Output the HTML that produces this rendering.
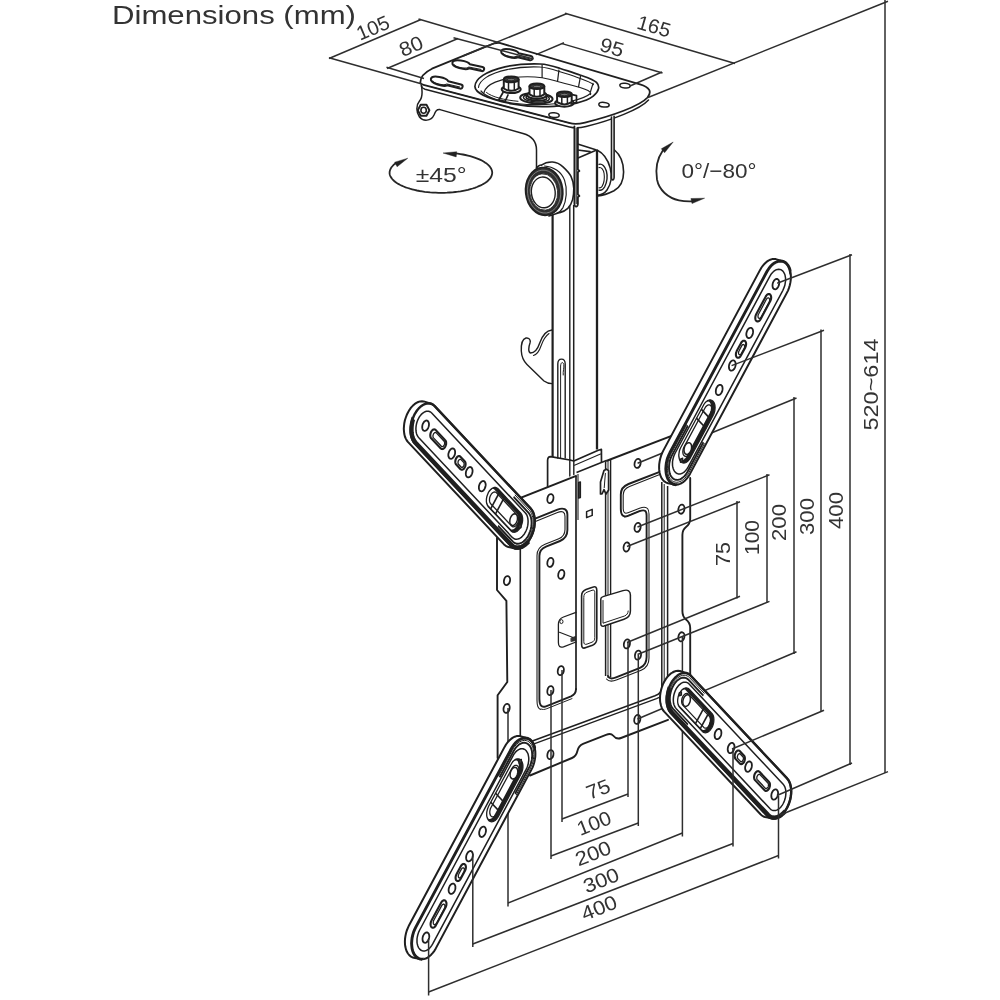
<!DOCTYPE html>
<html><head><meta charset="utf-8"><title>Dimensions</title>
<style>
html,body{margin:0;padding:0;background:#fff;}
body{width:1000px;height:1000px;overflow:hidden;font-family:"Liberation Sans",sans-serif;}
svg{display:block}
text{font-family:"Liberation Sans",sans-serif;fill:#333;}
svg{filter:grayscale(1)}
</style></head><body>
<svg width="1000" height="1000" viewBox="0 0 1000 1000">
<rect width="1000" height="1000" fill="#fff"/>
<path d="M421.5,86 C422.5,92 423,97 419.5,101 C416,105 416,112 419.5,117 C423,121.5 431,121.5 434,115 C435.5,111 436.5,109.3 440,109.6 L523,133.5 C532,136 536.5,141 536.5,150 L536.5,170" fill="none" stroke="#1f1f1f" stroke-width="1.5" stroke-linejoin="round" stroke-linecap="round" />
<path d="M429.4,110.2 L426.5,115.7 L420.7,115.7 L417.8,110.2 L420.7,104.7 L426.5,104.7Z" fill="#fff" stroke="#1f1f1f" stroke-width="1.9" stroke-linejoin="round" stroke-linecap="round" />
<ellipse cx="423.6" cy="110.2" rx="2.7" ry="3.0" transform="rotate(0 423.6 110.2)" fill="none" stroke="#1f1f1f" stroke-width="1.6"/>
<path d="M420.3,82.5 C420.3,77.5 424.5,72.4 432,68.7 L487,46.2 C491,44.6 494.5,42.4 499.5,42.9 L640,84.3 C650,87.2 652,92 647.5,97.5 C640,106 612,116 585,122.5 C579,124 575,124.5 570,123.2 L423.5,84.8 C421.5,84.3 420.3,83.6 420.3,82.5Z" fill="#fff" stroke="#1f1f1f" stroke-width="1.8" stroke-linejoin="round" stroke-linecap="round" />
<path d="M421.3,85.5 C421.6,87.5 423,88.6 425,89.2 L569.5,127 C575,128.4 580,128 586,126.6 C612,120 640,109.5 648.5,100" fill="none" stroke="#1f1f1f" stroke-width="1.5" stroke-linejoin="round" stroke-linecap="round" />
<path d="M431,86.8 L571,123.5" fill="none" stroke="#1f1f1f" stroke-width="0.8" stroke-linejoin="round" stroke-linecap="round" />
<g transform="translate(440.0 81.2) rotate(14.5)"><path d="M-9.4,0 C-9.4,-4.8 5.6,-4.8 8.0,-2.1 L21.2,-2.1 A2.1,2.1 0 0 1 21.2,2.1 L8.0,2.1 C5.6,4.8 -9.4,4.8 -9.4,0Z" fill="#fff" stroke="#1f1f1f" stroke-width="2.0" stroke-linejoin="round"/><path d="M-7.4,1.4 C-6.4,3.7 4.7,3.9 7.5,0.9 L20.7,0.7" fill="none" stroke="#1f1f1f" stroke-width="1.0"/></g>
<g transform="translate(461.6 64.6) rotate(12.1)"><path d="M-9.4,0 C-9.4,-4.8 5.6,-4.8 8.0,-2.1 L20.9,-2.1 A2.1,2.1 0 0 1 20.9,2.1 L8.0,2.1 C5.6,4.8 -9.4,4.8 -9.4,0Z" fill="#fff" stroke="#1f1f1f" stroke-width="2.0" stroke-linejoin="round"/><path d="M-7.4,1.4 C-6.4,3.7 4.7,3.9 7.5,0.9 L20.4,0.7" fill="none" stroke="#1f1f1f" stroke-width="1.0"/></g>
<g transform="translate(510.4 53.4) rotate(13.3)"><path d="M-9.4,0 C-9.4,-4.8 5.6,-4.8 8.0,-2.1 L20.6,-2.1 A2.1,2.1 0 0 1 20.6,2.1 L8.0,2.1 C5.6,4.8 -9.4,4.8 -9.4,0Z" fill="#fff" stroke="#1f1f1f" stroke-width="2.0" stroke-linejoin="round"/><path d="M-7.4,1.4 C-6.4,3.7 4.7,3.9 7.5,0.9 L20.1,0.7" fill="none" stroke="#1f1f1f" stroke-width="1.0"/></g>
<ellipse cx="554.0" cy="115.1" rx="5.2" ry="2.3" transform="rotate(5 554.0 115.1)" fill="#fff" stroke="#1f1f1f" stroke-width="1.5"/>
<ellipse cx="604.0" cy="104.7" rx="5.2" ry="2.3" transform="rotate(5 604.0 104.7)" fill="#fff" stroke="#1f1f1f" stroke-width="1.5"/>
<ellipse cx="625.0" cy="85.6" rx="5.2" ry="2.3" transform="rotate(5 625.0 85.6)" fill="#fff" stroke="#1f1f1f" stroke-width="1.5"/>
<path d="M474.9,86.5 C475,79 486,71 505,66.8 C517,64.3 529,63.6 540,64 C548,64.3 553,66 559.6,68.2 C567,70.7 573,72.5 580.6,75.2 C588,77.8 593.5,79.5 596.5,82.4 C600,86 599.5,91 593.2,96.2 C586,102 569,105.5 554,106.3 C540,107.2 525,106.4 512,103.9 C494,100.3 475,94 474.9,86.5Z" fill="#fff" stroke="#1f1f1f" stroke-width="1.7" stroke-linejoin="round" stroke-linecap="round" />
<path d="M478.5,87.5 C479,80.5 489,73.5 507,69.6 C518,67.2 529,66.6 539.5,67 C547,67.3 552,69 558.5,71.2 C566,73.7 572,75.5 579.5,78.2 C586.5,80.7 591,82.3 593.5,84.6" fill="none" stroke="#1f1f1f" stroke-width="1.1" stroke-linejoin="round" stroke-linecap="round" />
<line x1="542.1" y1="64.7" x2="542.1" y2="78.0" stroke="#1f1f1f" stroke-width="1.2" />
<line x1="559.0" y1="69.6" x2="557.5" y2="81.5" stroke="#1f1f1f" stroke-width="1.2" />
<line x1="580.6" y1="75.9" x2="578.5" y2="87.1" stroke="#1f1f1f" stroke-width="1.2" />
<line x1="593.2" y1="82.9" x2="590.4" y2="92.0" stroke="#1f1f1f" stroke-width="1.2" />
<path d="M484,92.5 C486,84 500,78.5 520,77 C532,76.2 545,77.5 556,81 C567,84.5 580,86.5 588,90.5 C590.5,92 591,93.5 590.4,94.5" fill="none" stroke="#1f1f1f" stroke-width="1.2" stroke-linejoin="round" stroke-linecap="round" />
<path d="M481,91 C486,97 500,101.5 516,103.5 C534,105.5 556,104.5 572,101 C580,99.2 587,96.5 590.4,93.5" fill="none" stroke="#1f1f1f" stroke-width="1.2" stroke-linejoin="round" stroke-linecap="round" />
<path d="M486.5,92.5 C492,97 504,100 518,101.3" fill="none" stroke="#1f1f1f" stroke-width="1.0" stroke-linejoin="round" stroke-linecap="round" />
<ellipse cx="511.2" cy="89.3" rx="9.5" ry="3.8" transform="rotate(0 511.2 89.3)" fill="#fff" stroke="#1f1f1f" stroke-width="2.0"/>
<path d="M503.8,79.4 L503.8,88.5 Q511.2,93.2 518.6,88.5 L518.6,79.4Z" fill="#fff" stroke="#1f1f1f" stroke-width="2.0" stroke-linejoin="round" stroke-linecap="round" />
<line x1="508.5" y1="81.9" x2="508.5" y2="90.4" stroke="#1f1f1f" stroke-width="1.5" />
<line x1="514.3" y1="81.6" x2="514.3" y2="90.3" stroke="#1f1f1f" stroke-width="1.5" />
<ellipse cx="511.2" cy="79.4" rx="7.4" ry="2.8" transform="rotate(0 511.2 79.4)" fill="#3a3a3a" stroke="#1f1f1f" stroke-width="2.0"/>
<ellipse cx="511.2" cy="79.6" rx="3.7" ry="1.2" transform="rotate(0 511.2 79.6)" fill="#777" stroke="#1f1f1f" stroke-width="0.8"/>
<ellipse cx="536.4" cy="98.3" rx="16.2" ry="5.2" transform="rotate(3 536.4 98.3)" fill="#fff" stroke="#1f1f1f" stroke-width="2.0"/>
<ellipse cx="536.4" cy="98.0" rx="13.0" ry="4.0" transform="rotate(3 536.4 98.0)" fill="none" stroke="#1f1f1f" stroke-width="1.4"/>
<ellipse cx="536.4" cy="97.6" rx="10.4" ry="3.0" transform="rotate(3 536.4 97.6)" fill="none" stroke="#1f1f1f" stroke-width="1.6"/>
<ellipse cx="536.9" cy="95.1" rx="9.5" ry="3.8" transform="rotate(0 536.9 95.1)" fill="#fff" stroke="#1f1f1f" stroke-width="2.0"/>
<path d="M529.5,86.2 L529.5,94.3 Q536.9,99.0 544.3,94.3 L544.3,86.2Z" fill="#fff" stroke="#1f1f1f" stroke-width="2.0" stroke-linejoin="round" stroke-linecap="round" />
<line x1="534.2" y1="88.7" x2="534.2" y2="96.2" stroke="#1f1f1f" stroke-width="1.5" />
<line x1="540.0" y1="88.4" x2="540.0" y2="96.1" stroke="#1f1f1f" stroke-width="1.5" />
<ellipse cx="536.9" cy="86.2" rx="7.4" ry="2.8" transform="rotate(0 536.9 86.2)" fill="#3a3a3a" stroke="#1f1f1f" stroke-width="2.0"/>
<ellipse cx="536.9" cy="86.4" rx="3.7" ry="1.2" transform="rotate(0 536.9 86.4)" fill="#777" stroke="#1f1f1f" stroke-width="0.8"/>
<ellipse cx="564.4" cy="103.0" rx="9.3" ry="3.7" transform="rotate(0 564.4 103.0)" fill="#fff" stroke="#1f1f1f" stroke-width="2.0"/>
<path d="M557.1,94.3 L557.1,102.2 Q564.4,106.8 571.7,102.2 L571.7,94.3Z" fill="#fff" stroke="#1f1f1f" stroke-width="2.0" stroke-linejoin="round" stroke-linecap="round" />
<line x1="561.8" y1="96.8" x2="561.8" y2="104.1" stroke="#1f1f1f" stroke-width="1.5" />
<line x1="567.4" y1="96.5" x2="567.4" y2="104.0" stroke="#1f1f1f" stroke-width="1.5" />
<ellipse cx="564.4" cy="94.3" rx="7.3" ry="2.7" transform="rotate(0 564.4 94.3)" fill="#3a3a3a" stroke="#1f1f1f" stroke-width="2.0"/>
<ellipse cx="564.4" cy="94.5" rx="3.6" ry="1.2" transform="rotate(0 564.4 94.5)" fill="#777" stroke="#1f1f1f" stroke-width="0.8"/>
<path d="M571,94.3 L576.5,95.6 L576.5,102.4 L571,104" fill="none" stroke="#1f1f1f" stroke-width="1.7" stroke-linejoin="round" stroke-linecap="round" />
<path d="M503,92.5 L499,99.5 L505,101.5 L508,95" fill="none" stroke="#1f1f1f" stroke-width="1.7" stroke-linejoin="round" stroke-linecap="round" />
<path d="M614,149.5 C620,154.5 623.6,163 623.6,172 C623.6,181 620,187.5 614,190.8 C608,193.8 603,195.6 598,196" fill="#fff" stroke="#1f1f1f" stroke-width="1.6" stroke-linejoin="round" stroke-linecap="round" />
<path d="M597,150 C603,153 607.8,159 610.2,168 C612.2,176 611.2,184 607,190 C604.5,193.5 601,195 597,195.2" fill="#fff" stroke="#1f1f1f" stroke-width="1.5" stroke-linejoin="round" stroke-linecap="round" />
<path d="M599,164.3 C602,163.3 605,166 606.4,171 C607.7,176 607.1,182 604.6,187 C603.1,189.6 601,190.6 599,190.1" fill="none" stroke="#1f1f1f" stroke-width="1.4" stroke-linejoin="round" stroke-linecap="round" />
<path d="M599,167.6 C601.5,167 603.4,169.5 604.1,173.5 C604.7,178 604.1,183 602.1,186.4 C601.1,187.8 600,188 599,187.8" fill="none" stroke="#1f1f1f" stroke-width="1.1" stroke-linejoin="round" stroke-linecap="round" />
<path d="M611.5,117 L611.5,177.5 C611.6,180.6 613.9,180.6 614.1,177.5 L614.1,116.2" fill="#fff" stroke="#1f1f1f" stroke-width="1.6" stroke-linejoin="round" stroke-linecap="round" />
<rect x="552.6" y="150" width="44.4" height="308" fill="#fff" stroke="none"/>
<line x1="552.6" y1="212.0" x2="552.6" y2="457.0" stroke="#1f1f1f" stroke-width="2.2" />
<line x1="569.8" y1="206.0" x2="569.8" y2="460.0" stroke="#1f1f1f" stroke-width="1.4" />
<line x1="573.7" y1="205.0" x2="573.7" y2="461.0" stroke="#1f1f1f" stroke-width="1.5" />
<line x1="597.0" y1="150.5" x2="597.0" y2="449.5" stroke="#1f1f1f" stroke-width="2.3" />
<path d="M577.6,144 L595,149.6 L597,150.4 M577.8,150 L590,151.6 M578,158 L595.5,150.6" fill="none" stroke="#1f1f1f" stroke-width="1.6" stroke-linejoin="round" stroke-linecap="round" />
<path d="M574.4,126.5 L574.4,204 C574.6,207.5 577.6,207.5 577.9,204 L577.9,197 L579.4,196 L577.9,194.5 L577.9,172 L579.4,171 L577.9,169.5 L577.9,128" fill="#fff" stroke="#1f1f1f" stroke-width="1.8" stroke-linejoin="round" stroke-linecap="round" />
<line x1="576.2" y1="128.0" x2="576.2" y2="204.0" stroke="#1f1f1f" stroke-width="1.1" />
<path d="M536.5,168 C538,165.5 541,164.8 541.4,165.2 C545,162.6 549,161.8 552.6,162 C557,162.3 560.5,164.5 563,166.8 C567,170.5 569.6,173.5 571,176.4 C573,180.5 573.8,184.5 573.8,188.4 C573.8,192.5 573.4,196.5 572.6,199.6 C571.5,203.5 570,206.2 567.8,208.4 C565.5,210.6 563,211.8 559.8,212.6 L549,216" fill="#fff" stroke="#1f1f1f" stroke-width="1.6" stroke-linejoin="round" stroke-linecap="round" />
<path d="M544.6,166 C549,166.3 553,167.6 556.6,170 C560.5,172.6 563,176 564.6,180.4 C566.2,185 566.6,190 566.2,194.8 C565.8,199.5 564.8,204 563,207.6 C561.5,210.4 559.5,212.2 556.6,213.4" fill="none" stroke="#1f1f1f" stroke-width="1.2" stroke-linejoin="round" stroke-linecap="round" />
<ellipse cx="544.2" cy="191.4" rx="18.6" ry="24.0" transform="rotate(-6 544.2 191.4)" fill="#303030" stroke="#1f1f1f" stroke-width="1.6"/>
<ellipse cx="544.1" cy="191.6" rx="16.6" ry="21.5" transform="rotate(-6 544.1 191.6)" fill="none" stroke="#8a8a8a" stroke-width="0.8"/>
<ellipse cx="543.7" cy="192.0" rx="13.9" ry="18.2" transform="rotate(-6 543.7 192.0)" fill="#fff" stroke="#1f1f1f" stroke-width="0.8"/>
<ellipse cx="543.3" cy="192.4" rx="11.9" ry="15.4" transform="rotate(-6 543.3 192.4)" fill="#fff" stroke="#1f1f1f" stroke-width="1.4"/>
<path d="M552,330 C546.5,330.5 542,336 539.5,343.5 C537.5,349.5 534.5,353 530.5,353 C528,352.5 528.5,347 530,343 C531,340 529,337.5 526,338 C522.5,339 521,344.5 521.3,351 C521.6,357 523.5,361 527,364.5 L544,381 C547,383.3 549.5,383.6 552,383.6" fill="none" stroke="#1f1f1f" stroke-width="1.4" stroke-linejoin="round" stroke-linecap="round" />
<path d="M549,333.5 C545.5,336 543,340.5 541.2,345.5 C539.5,350.5 537,354.5 533.5,355.5" fill="none" stroke="#1f1f1f" stroke-width="1.1" stroke-linejoin="round" stroke-linecap="round" />
<path d="M557.8,458 L557.8,364 C557.8,357.5 565.2,357.5 565.2,364 L565.2,458" fill="none" stroke="#1f1f1f" stroke-width="1.4" stroke-linejoin="round" stroke-linecap="round" />
<path d="M560.6,458 L560.6,366 C560.8,362 563,361.5 563.8,364.5 C564.3,368 562.8,371 563.2,375" fill="none" stroke="#1f1f1f" stroke-width="1.0" stroke-linejoin="round" stroke-linecap="round" />
<path d="M547.6,488 L547.6,460.5 C547.6,458 548.6,456.8 550.6,456.7 L569.8,460 L573.8,461 L598.3,450.2 L601.4,449.4 L601.5,462" fill="none" stroke="#1f1f1f" stroke-width="1.7" stroke-linejoin="round" stroke-linecap="round" />
<path d="M569.8,460 L569.8,476 M573.8,461 L573.8,474.5" fill="none" stroke="#1f1f1f" stroke-width="1.4" stroke-linejoin="round" stroke-linecap="round" />
<path d="M574.5,465.3 L600.5,454" fill="none" stroke="#1f1f1f" stroke-width="1.1" stroke-linejoin="round" stroke-linecap="round" />
<path d="M497.0,507.0 L576.8,475.2 L577.0,470.0 L605.6,461.0 L690.0,427.5 L690.0,521.0 L682.4,530.0 L682.4,617.0 L690.0,624.5 L690.0,705.0 L667.0,720.5 L620.8,739.2 L615.3,737.0 L609.8,731.5 L579.0,743.6 L574.6,756.8 L532.8,774.4 L497.6,760.0 L497.6,695.2 L507.3,682.0 L506.4,600.8 L497.0,590.0Z" fill="#fff" stroke="none" stroke-width="0" stroke-linejoin="round" stroke-linecap="round" />
<path d="M497,538 L497,590 L506.4,600.8 L507.3,682 L497.6,695.2 L497.6,758" fill="none" stroke="#1f1f1f" stroke-width="1.9" stroke-linejoin="round" stroke-linecap="round" />
<line x1="520.3" y1="546.0" x2="520.3" y2="737.0" stroke="#1f1f1f" stroke-width="1.6" />
<line x1="508.0" y1="502.8" x2="576.8" y2="475.6" stroke="#1f1f1f" stroke-width="1.9" />
<line x1="606.2" y1="461.0" x2="682.0" y2="431.9" stroke="#1f1f1f" stroke-width="1.9" />
<line x1="576.5" y1="472.6" x2="606.4" y2="460.6" stroke="#1f1f1f" stroke-width="1.6" />
<line x1="576.0" y1="476.0" x2="576.0" y2="690.0" stroke="#1f1f1f" stroke-width="1.7" />
<line x1="578.0" y1="474.0" x2="578.0" y2="520.0" stroke="#1f1f1f" stroke-width="1.1" />
<path d="M578.6,482.5 L580.4,482 L580.4,497.5 L578.6,498Z" fill="#555" stroke="#1f1f1f" stroke-width="1.4" stroke-linejoin="round" stroke-linecap="round" />
<line x1="605.6" y1="461.3" x2="605.6" y2="676.0" stroke="#1f1f1f" stroke-width="1.5" />
<line x1="608.0" y1="461.0" x2="608.0" y2="678.0" stroke="#1f1f1f" stroke-width="1.0" />
<line x1="610.6" y1="460.0" x2="610.6" y2="677.0" stroke="#1f1f1f" stroke-width="1.4" />
<path d="M600.5,494 L600.5,482 L604,470.6 L606.4,469.2 L608.6,470.6 L608.6,490 L606,494 L604,489.6 L602,494Z" fill="#fff" stroke="#1f1f1f" stroke-width="1.7" stroke-linejoin="round" stroke-linecap="round" />
<line x1="605.4" y1="473.0" x2="604.2" y2="488.0" stroke="#1f1f1f" stroke-width="1.0" />
<path d="M586.6,511.6 L592.2,509.4 L592.2,515.4 L586.6,517.6Z" fill="none" stroke="#1f1f1f" stroke-width="1.5" stroke-linejoin="round" stroke-linecap="round" />
<path d="M534.5,518.8 L557.5,509.6 C563.5,507.4 567.4,509 567.4,514.5 L567.4,530 C567.4,536 565,539 560,541 L546,546.6 C541.5,548.4 539.4,551 539.4,556 L539.4,699 C539.4,705.5 541.5,708 546,706.3 L571,696.4 C575,694.6 576,692.5 576,689" fill="none" stroke="#1f1f1f" stroke-width="1.9" stroke-linejoin="round" stroke-linecap="round" />
<path d="M536,521.2 L557.5,512.4 C562.5,510.5 565,512 565,516.5 L565,529.5 C565,534.5 563,537 558.8,538.7 L545,544.2 C539.5,546.4 537,549.8 537,555.5 L537,700.5 C537,706 538,708.6 540.5,709.4" fill="none" stroke="#1f1f1f" stroke-width="1.1" stroke-linejoin="round" stroke-linecap="round" />
<path d="M541,709 C542.5,709.8 544.5,709.6 546.8,708.7 L572,698.6" fill="none" stroke="#1f1f1f" stroke-width="1.0" stroke-linejoin="round" stroke-linecap="round" />
<path d="M661,471.3 L628.5,484 C623,486.2 620.8,489 620.8,494.5 L620.8,509 C620.8,515.5 623.5,517.6 628,515.8 L639.5,511.2 C644.5,509.2 646.6,510.6 646.6,515.5 L646.6,657 C646.6,663 644.5,666 640,667.8 L616,677.4 C611.5,679.2 609,678.5 608,676" fill="none" stroke="#1f1f1f" stroke-width="1.9" stroke-linejoin="round" stroke-linecap="round" />
<path d="M661,474 L629.5,486.4 C624.8,488.3 623.2,490.6 623.2,495 L623.2,508.5 C623.2,512.7 624.8,514 628,512.8 L639.5,508.3 C645.8,505.8 649,507.8 649,514 L649,658 C649,664.5 646.5,668 641.2,670.2 L617,679.8 C612,681.8 608.5,681.5 606.5,679" fill="none" stroke="#1f1f1f" stroke-width="1.1" stroke-linejoin="round" stroke-linecap="round" />
<path d="M624.5,517 L640.5,510.6" fill="none" stroke="#1f1f1f" stroke-width="0.9" stroke-linejoin="round" stroke-linecap="round" />
<line x1="661.8" y1="482.0" x2="661.8" y2="690.0" stroke="#1f1f1f" stroke-width="1.5" />
<line x1="664.2" y1="484.0" x2="664.2" y2="690.5" stroke="#1f1f1f" stroke-width="1.0" />
<line x1="667.6" y1="486.0" x2="667.6" y2="692.0" stroke="#1f1f1f" stroke-width="1.5" />
<path d="M690.2,478 L690.2,519 C690.2,523.5 688.5,525 686,527 C683.2,529.2 682.4,531 682.4,535 L682.4,611 C682.4,615.5 683.5,617.5 686,619.5 C689,621.8 690.2,623.5 690.2,628 L690.2,700" fill="none" stroke="#1f1f1f" stroke-width="1.9" stroke-linejoin="round" stroke-linecap="round" />
<path d="M531,741.5 L655,695.8 C660,693.8 661.8,691.5 661.8,688" fill="none" stroke="#1f1f1f" stroke-width="1.6" stroke-linejoin="round" stroke-linecap="round" />
<path d="M532,744.6 L656.5,698.6 C663,696 667.6,693.5 667.6,689" fill="none" stroke="#1f1f1f" stroke-width="1.3" stroke-linejoin="round" stroke-linecap="round" />
<path d="M530,775.5 L572,758 C575.5,756.5 576.6,754.5 577.4,751 C578.2,747.2 579.5,745.2 583,743.8 L606,734.8 C609.5,733.4 611.5,733.6 613,735.5 C615,738 617,739.6 621,738 L668,719.8" fill="none" stroke="#1f1f1f" stroke-width="1.9" stroke-linejoin="round" stroke-linecap="round" />
<path d="M581.6,596 C581.6,592.5 583,590.8 586,589.6 L592.5,587.2 C595.5,586 596.8,587.2 596.8,590.5 L596.8,638.5 C596.8,642 595.5,644 592.5,645.2 L586,647.6 C583,648.8 581.6,647.8 581.6,644.5Z" fill="#fff" stroke="#1f1f1f" stroke-width="1.6" stroke-linejoin="round" stroke-linecap="round" />
<path d="M583.8,597 C583.8,594.5 584.8,593 587,592.2 L592,590.3 C594,589.6 594.8,590.4 594.8,592.6 L594.8,637.5 C594.8,640 594,641.4 592,642.2 L587,644.1 C584.8,644.9 583.8,644 583.8,642Z" fill="none" stroke="#1f1f1f" stroke-width="1.0" stroke-linejoin="round" stroke-linecap="round" />
<path d="M600.8,599 C600.8,597.5 601.5,597 603,596.6 L623,590.6 C628,589.2 630.4,591 630.4,595 L630.4,611 C630.4,615.5 628.5,617.8 624,619.2 L604,626 C602,626.6 600.8,626 600.8,624Z" fill="#fff" stroke="#1f1f1f" stroke-width="1.5" stroke-linejoin="round" stroke-linecap="round" />
<path d="M603,600.5 L603,623.2 L624.5,616 C627,615 628,613.4 628.2,611" fill="none" stroke="#1f1f1f" stroke-width="1.0" stroke-linejoin="round" stroke-linecap="round" />
<path d="M576,612.4 L563.5,617 C559.8,618.4 558.4,620.4 558.4,624.4 L558.4,642.5 C558.4,646.5 560,648 563.5,646.8 L576,642" fill="none" stroke="#1f1f1f" stroke-width="1.3" stroke-linejoin="round" stroke-linecap="round" />
<ellipse cx="561.4" cy="621.6" rx="1.6" ry="2.0" transform="rotate(0 561.4 621.6)" fill="none" stroke="#1f1f1f" stroke-width="1.0"/>
<path d="M559.5,632.2 L573,637.4 M571.5,639.8 L575.5,639" fill="none" stroke="#1f1f1f" stroke-width="1.1" stroke-linejoin="round" stroke-linecap="round" />
<path d="M571.3,638 L575.6,636.4 L575.6,640.6 L571.3,641.4Z" fill="#333" stroke="#1f1f1f" stroke-width="0.8" stroke-linejoin="round" stroke-linecap="round" />
<ellipse cx="550.4" cy="498.6" rx="3.0" ry="4.6" transform="rotate(12 550.4 498.6)" fill="#fff" stroke="#1f1f1f" stroke-width="1.8"/>
<ellipse cx="637.6" cy="463.4" rx="3.0" ry="4.6" transform="rotate(12 637.6 463.4)" fill="#fff" stroke="#1f1f1f" stroke-width="1.8"/>
<ellipse cx="507.0" cy="580.6" rx="3.0" ry="4.6" transform="rotate(12 507.0 580.6)" fill="#fff" stroke="#1f1f1f" stroke-width="1.8"/>
<ellipse cx="550.4" cy="562.4" rx="3.0" ry="4.6" transform="rotate(12 550.4 562.4)" fill="#fff" stroke="#1f1f1f" stroke-width="1.8"/>
<ellipse cx="561.3" cy="574.4" rx="3.0" ry="4.6" transform="rotate(12 561.3 574.4)" fill="#fff" stroke="#1f1f1f" stroke-width="1.8"/>
<ellipse cx="637.6" cy="527.4" rx="3.0" ry="4.6" transform="rotate(12 637.6 527.4)" fill="#fff" stroke="#1f1f1f" stroke-width="1.8"/>
<ellipse cx="626.6" cy="547.0" rx="3.0" ry="4.6" transform="rotate(12 626.6 547.0)" fill="#fff" stroke="#1f1f1f" stroke-width="1.8"/>
<ellipse cx="681.4" cy="509.2" rx="3.0" ry="4.6" transform="rotate(12 681.4 509.2)" fill="#fff" stroke="#1f1f1f" stroke-width="1.8"/>
<ellipse cx="681.4" cy="636.8" rx="3.0" ry="4.6" transform="rotate(12 681.4 636.8)" fill="#fff" stroke="#1f1f1f" stroke-width="1.8"/>
<ellipse cx="560.8" cy="670.6" rx="3.0" ry="4.6" transform="rotate(12 560.8 670.6)" fill="#fff" stroke="#1f1f1f" stroke-width="1.8"/>
<ellipse cx="550.4" cy="690.6" rx="3.0" ry="4.6" transform="rotate(12 550.4 690.6)" fill="#fff" stroke="#1f1f1f" stroke-width="1.8"/>
<ellipse cx="626.9" cy="643.9" rx="3.0" ry="4.6" transform="rotate(12 626.9 643.9)" fill="#fff" stroke="#1f1f1f" stroke-width="1.8"/>
<ellipse cx="638.0" cy="655.1" rx="3.0" ry="4.6" transform="rotate(12 638.0 655.1)" fill="#fff" stroke="#1f1f1f" stroke-width="1.8"/>
<ellipse cx="506.6" cy="708.4" rx="3.0" ry="4.6" transform="rotate(12 506.6 708.4)" fill="#fff" stroke="#1f1f1f" stroke-width="1.8"/>
<ellipse cx="550.4" cy="754.6" rx="3.0" ry="4.6" transform="rotate(12 550.4 754.6)" fill="#fff" stroke="#1f1f1f" stroke-width="1.8"/>
<ellipse cx="637.3" cy="719.4" rx="3.0" ry="4.6" transform="rotate(12 637.3 719.4)" fill="#fff" stroke="#1f1f1f" stroke-width="1.8"/>
<line x1="329.0" y1="58.5" x2="421.0" y2="19.5" stroke="#2e2e2e" stroke-width="1.5" />
<line x1="329.0" y1="57.7" x2="422.0" y2="84.0" stroke="#2e2e2e" stroke-width="1.5" />
<line x1="418.5" y1="19.0" x2="500.0" y2="43.0" stroke="#2e2e2e" stroke-width="1.5" />
<line x1="387.0" y1="68.5" x2="458.0" y2="38.5" stroke="#2e2e2e" stroke-width="1.5" />
<line x1="386.5" y1="67.3" x2="424.0" y2="78.5" stroke="#2e2e2e" stroke-width="1.5" />
<line x1="453.5" y1="37.7" x2="533.6" y2="59.0" stroke="#2e2e2e" stroke-width="1.5" />
<line x1="567.0" y1="13.5" x2="463.0" y2="56.0" stroke="#2e2e2e" stroke-width="1.5" />
<line x1="565.0" y1="13.2" x2="735.0" y2="63.5" stroke="#2e2e2e" stroke-width="1.5" />
<line x1="648.0" y1="97.5" x2="888.0" y2="1.2" stroke="#2e2e2e" stroke-width="1.5" />
<line x1="562.0" y1="43.6" x2="662.5" y2="73.0" stroke="#2e2e2e" stroke-width="1.5" />
<line x1="564.0" y1="42.8" x2="536.0" y2="54.6" stroke="#2e2e2e" stroke-width="1.5" />
<line x1="662.0" y1="72.0" x2="630.0" y2="86.0" stroke="#2e2e2e" stroke-width="1.5" />
<line x1="737.0" y1="501.0" x2="737.0" y2="598.5" stroke="#2e2e2e" stroke-width="1.5" />
<line x1="767.0" y1="474.0" x2="767.0" y2="603.0" stroke="#2e2e2e" stroke-width="1.5" />
<line x1="794.0" y1="397.0" x2="794.0" y2="654.0" stroke="#2e2e2e" stroke-width="1.5" />
<line x1="821.0" y1="329.5" x2="821.0" y2="711.5" stroke="#2e2e2e" stroke-width="1.5" />
<line x1="850.0" y1="254.0" x2="850.0" y2="765.0" stroke="#2e2e2e" stroke-width="1.5" />
<line x1="885.0" y1="0.0" x2="885.0" y2="773.0" stroke="#2e2e2e" stroke-width="1.5" />
<line x1="627.0" y1="546.5" x2="740.0" y2="501.8" stroke="#2e2e2e" stroke-width="1.5" />
<line x1="637.5" y1="527.0" x2="769.5" y2="474.8" stroke="#2e2e2e" stroke-width="1.5" />
<line x1="637.6" y1="463.2" x2="796.5" y2="398.0" stroke="#2e2e2e" stroke-width="1.5" />
<line x1="627.0" y1="642.5" x2="740.0" y2="596.2" stroke="#2e2e2e" stroke-width="1.5" />
<line x1="637.5" y1="654.5" x2="769.5" y2="601.4" stroke="#2e2e2e" stroke-width="1.5" />
<line x1="637.5" y1="719.0" x2="796.5" y2="651.8" stroke="#2e2e2e" stroke-width="1.5" />
<line x1="562.0" y1="670.0" x2="562.0" y2="822.0" stroke="#2e2e2e" stroke-width="1.5" />
<line x1="628.0" y1="642.0" x2="628.0" y2="797.0" stroke="#2e2e2e" stroke-width="1.5" />
<line x1="551.0" y1="690.0" x2="551.0" y2="859.0" stroke="#2e2e2e" stroke-width="1.5" />
<line x1="638.3" y1="655.0" x2="638.3" y2="826.0" stroke="#2e2e2e" stroke-width="1.5" />
<line x1="508.0" y1="708.0" x2="508.0" y2="906.5" stroke="#2e2e2e" stroke-width="1.5" />
<line x1="682.4" y1="637.0" x2="682.4" y2="836.5" stroke="#2e2e2e" stroke-width="1.5" />
<line x1="562.0" y1="819.0" x2="628.0" y2="794.0" stroke="#2e2e2e" stroke-width="1.5" />
<line x1="551.0" y1="856.0" x2="638.3" y2="823.0" stroke="#2e2e2e" stroke-width="1.5" />
<line x1="508.0" y1="903.0" x2="682.4" y2="833.0" stroke="#2e2e2e" stroke-width="1.5" />
<line x1="472.8" y1="944.0" x2="733.0" y2="843.5" stroke="#2e2e2e" stroke-width="1.5" />
<line x1="428.6" y1="992.0" x2="778.5" y2="855.5" stroke="#2e2e2e" stroke-width="1.5" />
<path d="M659.1,467.2 L659.2,464.4 L659.6,461.6 L660.2,458.7 L661.0,455.9 L662.1,453.2 L663.3,450.6 L760.1,269.9 L761.5,267.5 L763.1,265.4 L764.8,263.5 L766.5,261.9 L768.4,260.6 L770.3,259.7 L772.1,259.1 L774.0,258.9 L775.8,259.1 L777.5,259.6 L783.8,261.7 L785.4,262.6 L786.7,263.8 L788.0,265.4 L789.0,267.2 L789.8,269.3 L790.4,271.7 L790.8,274.2 L790.9,276.8 L790.8,279.6 L790.4,282.4 L789.8,285.2 L789.0,287.9 L788.0,290.6 L786.7,293.1 L690.0,473.9 L688.6,476.2 L687.0,478.3 L685.4,480.2 L683.6,481.8 L681.8,483.0 L680.0,483.9 L678.1,484.5 L676.3,484.7 L674.5,484.5 L668.0,483.2 L666.3,482.6 L664.7,481.7 L663.3,480.5 L662.1,478.9 L661.0,477.0 L660.2,474.9 L659.6,472.5 L659.2,469.9Z" fill="#fff" stroke="#1f1f1f" stroke-width="2.0" stroke-linejoin="round" stroke-linecap="round" />
<clipPath id="ac1"><path d="M927.8,16.5 L550.0,721.7 L373.7,627.2 L751.5,-78.0Z"/></clipPath>
<path d="M689.9,473.8 L688.6,476.2 L687.0,478.3 L685.4,480.2 L683.6,481.7 L681.8,483.0 L680.0,483.9 L678.1,484.5 L676.3,484.7 L674.6,484.5 L672.9,484.0 L671.4,483.1 L670.0,481.8 L668.8,480.3 L667.7,478.5 L666.9,476.3 L666.3,474.0 L666.0,471.5 L665.8,468.8 L666.0,466.1 L666.3,463.3 L666.9,460.5 L667.7,457.7 L668.8,455.1 L670.0,452.5 L766.8,271.8 L768.2,269.5 L769.7,267.4 L771.3,265.5 L773.1,263.9 L774.9,262.7 L776.8,261.8 L778.6,261.2 L780.4,261.0 L782.2,261.2 L783.8,261.7 L785.4,262.6 L786.7,263.8 L788.0,265.4 L789.0,267.2 L789.8,269.3 L790.4,271.7 L790.8,274.2 L790.9,276.8 L790.8,279.6 L790.4,282.4 L789.8,285.2 L789.0,288.0 L788.0,290.6 L786.7,293.1Z" fill="none" stroke="#1f1f1f" stroke-width="2.9" stroke-linejoin="round" stroke-linecap="round" clip-path="url(#ac1)"/>
<path d="M688.2,466.9 L687.3,468.4 L686.3,469.8 L685.2,471.0 L684.1,472.1 L682.9,472.9 L681.7,473.5 L680.5,473.9 L679.3,474.0 L678.2,473.9 L677.1,473.5 L676.1,472.9 L675.2,472.1 L674.4,471.1 L673.7,469.9 L673.2,468.5 L672.8,467.0 L672.5,465.4 L672.5,463.6 L672.5,461.8 L672.8,460.0 L673.2,458.2 L673.7,456.4 L674.4,454.6 L675.2,453.0 L769.8,276.3 L770.7,274.8 L771.7,273.4 L772.8,272.2 L773.9,271.2 L775.1,270.3 L776.3,269.7 L777.5,269.4 L778.7,269.2 L779.9,269.4 L780.9,269.7 L781.9,270.3 L782.9,271.1 L783.6,272.1 L784.3,273.3 L784.9,274.7 L785.2,276.2 L785.5,277.9 L785.6,279.6 L785.5,281.4 L785.2,283.2 L784.9,285.1 L784.3,286.9 L783.6,288.6 L782.9,290.3Z" fill="none" stroke="#1f1f1f" stroke-width="1.5" stroke-linejoin="round" stroke-linecap="round" />
<clipPath id="ec2"><path d="M660.8,396.7 L730.5,471.1 L671.2,581.8 L601.5,507.4Z"/></clipPath>
<path d="M688.8,472.7 L687.6,474.7 L686.2,476.6 L684.8,478.3 L683.2,479.7 L681.6,480.8 L680.0,481.6 L678.3,482.1 L676.7,482.3 L675.2,482.1 L673.7,481.7 L672.3,480.9 L671.1,479.8 L670.0,478.4 L669.1,476.8 L668.4,474.9 L667.8,472.8 L667.5,470.6 L667.4,468.2 L667.5,465.8 L667.8,463.3 L668.4,460.8 L669.1,458.3 L670.0,456.0 L671.1,453.7 L706.0,388.6 L707.2,386.5 L708.6,384.6 L710.0,383.0 L711.6,381.6 L713.2,380.5 L714.8,379.7 L716.5,379.2 L718.1,379.0 L719.6,379.1 L721.1,379.6 L722.5,380.4 L723.7,381.5 L724.8,382.9 L725.7,384.5 L726.4,386.4 L727.0,388.5 L727.3,390.7 L727.4,393.0 L727.3,395.5 L727.0,398.0 L726.4,400.5 L725.7,402.9 L724.8,405.3 L723.7,407.5Z" fill="none" stroke="#1f1f1f" stroke-width="1.0" stroke-linejoin="round" stroke-linecap="round" clip-path="url(#ec2)"/>
<path d="M687.7,471.5 L686.6,473.3 L685.5,475.0 L684.2,476.4 L682.8,477.6 L681.4,478.6 L680.0,479.3 L678.5,479.7 L677.1,479.9 L675.8,479.8 L674.5,479.4 L673.3,478.7 L672.2,477.7 L671.2,476.5 L670.4,475.1 L669.8,473.4 L669.3,471.6 L669.1,469.7 L669.0,467.6 L669.1,465.5 L669.3,463.3 L669.8,461.1 L670.4,458.9 L671.2,456.9 L672.2,454.9 L707.1,389.8 L708.2,388.0 L709.3,386.3 L710.6,384.9 L712.0,383.6 L713.4,382.7 L714.8,382.0 L716.3,381.5 L717.7,381.4 L719.0,381.5 L720.3,381.9 L721.5,382.6 L722.6,383.6 L723.6,384.8 L724.4,386.2 L725.0,387.8 L725.5,389.7 L725.7,391.6 L725.8,393.7 L725.7,395.8 L725.5,398.0 L725.0,400.2 L724.4,402.3 L723.6,404.4 L722.6,406.4Z" fill="none" stroke="#1f1f1f" stroke-width="1.9" stroke-linejoin="round" stroke-linecap="round" clip-path="url(#ec2)"/>
<path d="M779.3,282.8 L779.2,283.9 L778.9,285.1 L778.5,286.2 L778.0,287.2 L777.4,288.0 L776.6,288.7 L775.9,289.1 L775.1,289.3 L774.4,289.2 L773.8,288.9 L773.2,288.3 L772.8,287.5 L772.6,286.6 L772.5,285.5 L772.6,284.3 L772.8,283.2 L773.2,282.1 L773.8,281.1 L774.4,280.2 L775.1,279.6 L775.9,279.1 L776.6,278.9 L777.4,279.0 L778.0,279.4 L778.5,279.9 L778.9,280.7 L779.2,281.7Z" fill="#fff" stroke="#1f1f1f" stroke-width="1.8" stroke-linejoin="round" stroke-linecap="round" />
<path d="M753.1,331.6 L753.0,332.7 L752.8,333.9 L752.4,335.0 L751.8,336.0 L751.2,336.9 L750.5,337.5 L749.7,337.9 L749.0,338.1 L748.2,338.0 L747.6,337.7 L747.1,337.1 L746.7,336.3 L746.4,335.4 L746.3,334.3 L746.4,333.2 L746.7,332.0 L747.1,330.9 L747.6,329.9 L748.2,329.1 L749.0,328.4 L749.7,328.0 L750.5,327.8 L751.2,327.9 L751.8,328.2 L752.4,328.8 L752.8,329.6 L753.0,330.5Z" fill="#fff" stroke="#1f1f1f" stroke-width="1.8" stroke-linejoin="round" stroke-linecap="round" />
<path d="M735.7,364.2 L735.6,365.3 L735.3,366.5 L734.9,367.6 L734.4,368.6 L733.8,369.4 L733.0,370.1 L732.3,370.5 L731.5,370.7 L730.8,370.6 L730.2,370.3 L729.6,369.7 L729.2,368.9 L729.0,368.0 L728.9,366.9 L729.0,365.7 L729.2,364.6 L729.6,363.5 L730.2,362.5 L730.8,361.6 L731.5,361.0 L732.3,360.5 L733.0,360.3 L733.8,360.4 L734.4,360.8 L734.9,361.3 L735.3,362.1 L735.6,363.1Z" fill="#fff" stroke="#1f1f1f" stroke-width="1.8" stroke-linejoin="round" stroke-linecap="round" />
<path d="M722.6,388.6 L722.5,389.7 L722.3,390.9 L721.9,392.0 L721.3,393.0 L720.7,393.8 L720.0,394.5 L719.2,394.9 L718.4,395.1 L717.7,395.0 L717.1,394.7 L716.5,394.1 L716.1,393.3 L715.9,392.4 L715.8,391.3 L715.9,390.2 L716.1,389.0 L716.5,387.9 L717.1,386.9 L717.7,386.0 L718.4,385.4 L719.2,384.9 L720.0,384.8 L720.7,384.9 L721.3,385.2 L721.9,385.8 L722.3,386.5 L722.5,387.5Z" fill="#fff" stroke="#1f1f1f" stroke-width="1.8" stroke-linejoin="round" stroke-linecap="round" />
<path d="M760.7,319.0 L760.3,319.6 L760.0,320.0 L759.6,320.4 L759.3,320.8 L758.8,321.1 L758.4,321.3 L758.0,321.4 L757.6,321.4 L757.2,321.4 L756.9,321.3 L756.5,321.1 L756.2,320.8 L755.9,320.5 L755.7,320.1 L755.5,319.6 L755.4,319.1 L755.3,318.5 L755.3,317.9 L755.3,317.3 L755.4,316.7 L755.5,316.1 L755.7,315.5 L755.9,314.9 L756.2,314.3 L765.8,296.4 L766.1,295.9 L766.5,295.4 L766.8,295.0 L767.2,294.6 L767.6,294.4 L768.0,294.2 L768.4,294.0 L768.8,294.0 L769.2,294.0 L769.6,294.2 L769.9,294.3 L770.3,294.6 L770.5,295.0 L770.7,295.4 L770.9,295.8 L771.1,296.4 L771.1,296.9 L771.2,297.5 L771.1,298.1 L771.1,298.7 L770.9,299.4 L770.7,300.0 L770.5,300.6 L770.3,301.1Z" fill="#fff" stroke="#1f1f1f" stroke-width="2.1" stroke-linejoin="round" stroke-linecap="round" />
<path d="M761.3,316.9 L761.1,317.2 L760.9,317.5 L760.6,317.8 L760.4,318.0 L760.2,318.1 L759.9,318.3 L759.7,318.3 L759.4,318.4 L759.2,318.3 L759.0,318.3 L758.7,318.1 L758.6,318.0 L758.4,317.8 L758.2,317.5 L758.1,317.2 L758.1,316.9 L758.0,316.6 L758.0,316.2 L758.0,315.8 L758.1,315.5 L758.1,315.1 L758.2,314.7 L758.4,314.3 L758.6,314.0 L766.4,299.3 L766.6,299.0 L766.8,298.7 L767.0,298.5 L767.3,298.3 L767.5,298.1 L767.8,298.0 L768.0,297.9 L768.3,297.9 L768.5,297.9 L768.7,298.0 L768.9,298.1 L769.1,298.3 L769.3,298.5 L769.4,298.7 L769.5,299.0 L769.6,299.3 L769.7,299.7 L769.7,300.0 L769.7,300.4 L769.6,300.8 L769.5,301.2 L769.4,301.5 L769.3,301.9 L769.1,302.2Z" fill="none" stroke="#1f1f1f" stroke-width="1.3" stroke-linejoin="round" stroke-linecap="round" />
<path d="M740.9,355.5 L740.6,356.0 L740.3,356.5 L740.0,356.9 L739.6,357.2 L739.2,357.5 L738.8,357.7 L738.4,357.8 L738.1,357.8 L737.7,357.8 L737.3,357.7 L737.0,357.5 L736.7,357.2 L736.5,356.9 L736.3,356.5 L736.1,356.1 L736.0,355.6 L735.9,355.0 L735.9,354.5 L735.9,353.9 L736.0,353.3 L736.1,352.7 L736.3,352.2 L736.5,351.6 L736.7,351.1 L741.1,342.9 L741.4,342.4 L741.7,342.0 L742.0,341.6 L742.4,341.3 L742.8,341.0 L743.2,340.8 L743.6,340.7 L743.9,340.7 L744.3,340.7 L744.7,340.8 L745.0,341.0 L745.3,341.3 L745.5,341.6 L745.7,342.0 L745.9,342.4 L746.0,342.9 L746.1,343.4 L746.1,344.0 L746.1,344.6 L746.0,345.1 L745.9,345.7 L745.7,346.3 L745.5,346.9 L745.3,347.4Z" fill="#fff" stroke="#1f1f1f" stroke-width="2.1" stroke-linejoin="round" stroke-linecap="round" />
<path d="M741.5,353.4 L741.4,353.7 L741.2,353.9 L741.0,354.2 L740.7,354.4 L740.5,354.5 L740.3,354.6 L740.1,354.7 L739.8,354.7 L739.6,354.7 L739.4,354.6 L739.2,354.5 L739.1,354.4 L738.9,354.2 L738.8,354.0 L738.7,353.7 L738.6,353.4 L738.6,353.1 L738.5,352.8 L738.6,352.4 L738.6,352.1 L738.7,351.7 L738.8,351.4 L738.9,351.1 L739.1,350.8 L741.7,345.9 L741.8,345.6 L742.0,345.3 L742.2,345.1 L742.5,344.9 L742.7,344.7 L742.9,344.6 L743.1,344.6 L743.4,344.5 L743.6,344.6 L743.8,344.6 L744.0,344.7 L744.1,344.9 L744.3,345.1 L744.4,345.3 L744.5,345.6 L744.6,345.9 L744.6,346.2 L744.7,346.5 L744.6,346.8 L744.6,347.2 L744.5,347.5 L744.4,347.9 L744.3,348.2 L744.1,348.5Z" fill="none" stroke="#1f1f1f" stroke-width="1.3" stroke-linejoin="round" stroke-linecap="round" />
<clipPath id="ic3"><path d="M690.4,457.7 L689.8,458.9 L689.0,459.9 L688.2,460.8 L687.4,461.5 L686.5,462.1 L685.6,462.6 L684.7,462.9 L683.9,463.0 L683.0,462.9 L682.2,462.6 L681.5,462.2 L680.8,461.6 L680.2,460.8 L679.7,460.0 L679.3,458.9 L679.1,457.8 L678.9,456.6 L678.8,455.3 L678.9,454.0 L679.1,452.7 L679.3,451.3 L679.7,450.0 L680.2,448.7 L680.8,447.5 L703.5,405.2 L704.2,404.0 L704.9,403.0 L705.7,402.1 L706.5,401.4 L707.4,400.7 L708.3,400.3 L709.2,400.0 L710.1,399.9 L710.9,400.0 L711.7,400.3 L712.4,400.7 L713.1,401.3 L713.7,402.1 L714.2,402.9 L714.6,404.0 L714.9,405.1 L715.0,406.3 L715.1,407.6 L715.0,408.9 L714.9,410.2 L714.6,411.6 L714.2,412.9 L713.7,414.2 L713.1,415.4Z"/></clipPath>
<path d="M688.4,457.1 L687.8,458.3 L687.0,459.3 L686.2,460.2 L685.4,460.9 L684.5,461.5 L683.6,462.0 L682.7,462.3 L681.9,462.4 L681.0,462.3 L680.2,462.0 L679.5,461.6 L678.8,461.0 L678.2,460.2 L677.7,459.4 L677.3,458.3 L677.1,457.2 L676.9,456.0 L676.8,454.7 L676.9,453.4 L677.1,452.1 L677.3,450.7 L677.7,449.4 L678.2,448.1 L678.8,446.9 L701.5,404.6 L702.2,403.4 L702.9,402.4 L703.7,401.5 L704.5,400.8 L705.4,400.1 L706.3,399.7 L707.2,399.4 L708.1,399.3 L708.9,399.4 L709.7,399.7 L710.4,400.1 L711.1,400.7 L711.7,401.5 L712.2,402.3 L712.6,403.4 L712.9,404.5 L713.0,405.7 L713.1,407.0 L713.0,408.3 L712.9,409.6 L712.6,411.0 L712.2,412.3 L711.7,413.6 L711.1,414.8Z" fill="none" stroke="#1f1f1f" stroke-width="4.2" stroke-linejoin="round" stroke-linecap="round" clip-path="url(#ic3)"/>
<path d="M690.4,457.7 L689.8,458.9 L689.0,459.9 L688.2,460.8 L687.4,461.5 L686.5,462.1 L685.6,462.6 L684.7,462.9 L683.9,463.0 L683.0,462.9 L682.2,462.6 L681.5,462.2 L680.8,461.6 L680.2,460.8 L679.7,460.0 L679.3,458.9 L679.1,457.8 L678.9,456.6 L678.8,455.3 L678.9,454.0 L679.1,452.7 L679.3,451.3 L679.7,450.0 L680.2,448.7 L680.8,447.5 L703.5,405.2 L704.2,404.0 L704.9,403.0 L705.7,402.1 L706.5,401.4 L707.4,400.7 L708.3,400.3 L709.2,400.0 L710.1,399.9 L710.9,400.0 L711.7,400.3 L712.4,400.7 L713.1,401.3 L713.7,402.1 L714.2,402.9 L714.6,404.0 L714.9,405.1 L715.0,406.3 L715.1,407.6 L715.0,408.9 L714.9,410.2 L714.6,411.6 L714.2,412.9 L713.7,414.2 L713.1,415.4Z" fill="none" stroke="#1f1f1f" stroke-width="1.3" stroke-linejoin="round" stroke-linecap="round" />
<path d="M689.8,453.3 L689.4,453.9 L689.0,454.6 L688.5,455.1 L688.0,455.6 L687.5,455.9 L686.9,456.2 L686.4,456.3 L685.9,456.4 L685.4,456.4 L684.9,456.2 L684.4,455.9 L684.0,455.6 L683.7,455.1 L683.4,454.6 L683.1,454.0 L683.0,453.3 L682.9,452.6 L682.8,451.8 L682.9,451.0 L683.0,450.2 L683.1,449.4 L683.4,448.6 L683.7,447.8 L684.0,447.1 L705.0,408.0 L705.4,407.3 L705.8,406.7 L706.3,406.2 L706.8,405.7 L707.3,405.4 L707.9,405.1 L708.4,404.9 L708.9,404.9 L709.4,404.9 L709.9,405.1 L710.4,405.3 L710.8,405.7 L711.1,406.1 L711.4,406.7 L711.6,407.3 L711.8,408.0 L711.9,408.7 L712.0,409.5 L711.9,410.3 L711.8,411.1 L711.6,411.9 L711.4,412.7 L711.1,413.5 L710.8,414.2Z" fill="none" stroke="#1f1f1f" stroke-width="1.3" stroke-linejoin="round" stroke-linecap="round" />
<path d="M691.6,447.0 L691.5,448.3 L691.3,449.6 L690.8,450.9 L690.2,452.0 L689.5,452.9 L688.7,453.7 L687.8,454.2 L687.0,454.4 L686.1,454.3 L685.4,453.9 L684.8,453.3 L684.4,452.4 L684.1,451.3 L684.0,450.1 L684.1,448.8 L684.4,447.5 L684.8,446.2 L685.4,445.1 L686.1,444.1 L687.0,443.4 L687.8,442.9 L688.7,442.7 L689.5,442.8 L690.2,443.2 L690.8,443.8 L691.3,444.7 L691.5,445.8Z" fill="#fff" stroke="#1f1f1f" stroke-width="1.5" stroke-linejoin="round" stroke-linecap="round" />
<path d="M680.4,459.1 L682.7,458.1 L682.7,461.5 L680.4,462.4Z" fill="#444" stroke="#1f1f1f" stroke-width="1.2" stroke-linejoin="round" stroke-linecap="round" />
<line x1="696.4" y1="418.1" x2="706.2" y2="428.5" stroke="#1f1f1f" stroke-width="1.6" />
<line x1="701.2" y1="409.1" x2="711.0" y2="419.6" stroke="#1f1f1f" stroke-width="1.6" />
<path d="M403.8,428.8 L404.0,426.0 L404.3,423.2 L404.9,420.3 L405.8,417.5 L406.8,414.8 L408.1,412.2 L409.5,409.8 L411.0,407.7 L412.7,405.8 L414.5,404.2 L416.4,402.9 L418.2,402.0 L420.1,401.4 L421.9,401.2 L423.7,401.4 L425.4,401.9 L431.8,404.0 L433.3,404.9 L434.7,406.1 L530.6,508.4 L531.8,510.0 L532.9,511.8 L533.7,513.9 L534.3,516.3 L534.6,518.8 L534.8,521.4 L534.6,524.2 L534.3,527.0 L533.7,529.8 L532.9,532.5 L531.8,535.2 L530.6,537.7 L529.2,540.1 L527.7,542.2 L526.0,544.1 L524.3,545.6 L522.5,546.9 L520.6,547.8 L518.8,548.4 L517.0,548.6 L515.2,548.4 L508.6,547.1 L506.9,546.5 L505.4,545.6 L504.0,544.4 L408.1,442.1 L406.8,440.5 L405.8,438.6 L404.9,436.5 L404.3,434.1 L404.0,431.5Z" fill="#fff" stroke="#1f1f1f" stroke-width="2.0" stroke-linejoin="round" stroke-linecap="round" />
<clipPath id="ac4"><path d="M192.7,183.2 L739.9,766.7 L594.0,903.5 L46.8,320.0Z"/></clipPath>
<path d="M530.6,508.4 L531.8,510.0 L532.9,511.8 L533.7,513.9 L534.3,516.3 L534.6,518.8 L534.8,521.4 L534.6,524.2 L534.3,527.0 L533.7,529.8 L532.9,532.5 L531.8,535.2 L530.6,537.7 L529.2,540.1 L527.7,542.2 L526.0,544.1 L524.3,545.6 L522.5,546.9 L520.6,547.8 L518.8,548.4 L517.0,548.6 L515.2,548.4 L513.6,547.9 L512.0,547.0 L510.6,545.7 L414.7,443.4 L413.5,441.9 L412.5,440.0 L411.7,437.9 L411.1,435.6 L410.7,433.1 L410.6,430.4 L410.7,427.7 L411.1,424.9 L411.7,422.1 L412.5,419.3 L413.5,416.7 L414.7,414.1 L416.1,411.8 L417.6,409.7 L419.3,407.8 L421.1,406.2 L422.9,405.0 L424.7,404.1 L426.6,403.5 L428.4,403.3 L430.1,403.5 L431.8,404.0 L433.3,404.9 L434.7,406.1Z" fill="none" stroke="#1f1f1f" stroke-width="2.4" stroke-linejoin="round" stroke-linecap="round" />
<path d="M531.5,507.6 L532.7,509.2 L533.7,511.0 L534.6,513.1 L535.1,515.4 L535.5,518.0 L535.6,520.6 L535.5,523.4 L535.1,526.2 L534.6,529.0 L533.7,531.7 L532.7,534.4 L531.5,536.9 L530.1,539.3 L528.6,541.4 L526.9,543.2 L525.2,544.8 L523.3,546.1 L521.5,547.0 L519.7,547.5 L517.8,547.7 L516.1,547.6 L514.4,547.0 L512.9,546.1 L511.5,544.9 L415.6,442.6 L414.4,441.1 L413.3,439.2 L412.5,437.1 L411.9,434.8 L411.6,432.3 L411.5,429.6 L411.6,426.9 L411.9,424.1 L412.5,421.3 L413.3,418.5 L414.4,415.8 L415.6,413.3 L417.0,411.0 L418.5,408.8 L420.2,407.0 L421.9,405.4 L423.7,404.2 L425.6,403.2 L427.4,402.7 L429.2,402.5 L431.0,402.7 L432.6,403.2 L434.2,404.1 L435.6,405.3Z" fill="none" stroke="#1f1f1f" stroke-width="4.3" stroke-linejoin="round" stroke-linecap="round" clip-path="url(#ac4)"/>
<path d="M525.4,513.0 L526.2,514.0 L526.9,515.2 L527.4,516.6 L527.8,518.1 L528.0,519.8 L528.1,521.5 L528.0,523.3 L527.8,525.2 L527.4,527.0 L526.9,528.8 L526.2,530.5 L525.4,532.2 L524.5,533.7 L523.5,535.1 L522.4,536.3 L521.3,537.4 L520.1,538.2 L518.9,538.8 L517.7,539.1 L516.5,539.3 L515.3,539.2 L514.3,538.8 L513.3,538.2 L512.3,537.4 L418.6,437.5 L417.8,436.4 L417.1,435.2 L416.6,433.9 L416.2,432.3 L416.0,430.7 L415.9,428.9 L416.0,427.1 L416.2,425.3 L416.6,423.5 L417.1,421.7 L417.8,419.9 L418.6,418.3 L419.5,416.7 L420.5,415.4 L421.6,414.1 L422.8,413.1 L423.9,412.3 L425.1,411.7 L426.3,411.3 L427.5,411.2 L428.7,411.3 L429.8,411.7 L430.8,412.2 L431.7,413.0Z" fill="none" stroke="#1f1f1f" stroke-width="1.5" stroke-linejoin="round" stroke-linecap="round" />
<clipPath id="ec5"><path d="M540.7,446.2 L470.9,576.4 L530.2,639.6 L600.0,509.4Z"/></clipPath>
<path d="M529.5,510.5 L530.6,511.9 L531.5,513.5 L532.2,515.4 L532.8,517.5 L533.1,519.7 L533.2,522.1 L533.1,524.5 L532.8,527.0 L532.2,529.5 L531.5,531.9 L530.6,534.3 L529.5,536.6 L528.3,538.6 L526.9,540.5 L525.4,542.2 L523.9,543.6 L522.3,544.7 L520.6,545.5 L519.0,546.0 L517.4,546.2 L515.8,546.0 L514.3,545.5 L513.0,544.8 L511.7,543.7 L477.7,507.4 L476.7,506.0 L475.7,504.4 L475.0,502.5 L474.5,500.4 L474.2,498.2 L474.1,495.8 L474.2,493.4 L474.5,490.9 L475.0,488.4 L475.7,486.0 L476.7,483.6 L477.7,481.3 L479.0,479.3 L480.3,477.4 L481.8,475.7 L483.4,474.3 L485.0,473.2 L486.6,472.4 L488.3,471.9 L489.9,471.7 L491.4,471.9 L492.9,472.4 L494.3,473.1 L495.5,474.2Z" fill="none" stroke="#1f1f1f" stroke-width="1.0" stroke-linejoin="round" stroke-linecap="round" clip-path="url(#ec5)"/>
<path d="M528.4,512.6 L529.3,513.8 L530.1,515.2 L530.8,516.9 L531.2,518.7 L531.5,520.6 L531.6,522.7 L531.5,524.8 L531.2,527.0 L530.8,529.2 L530.1,531.3 L529.3,533.4 L528.4,535.4 L527.3,537.2 L526.1,538.8 L524.8,540.3 L523.5,541.5 L522.1,542.5 L520.6,543.2 L519.2,543.6 L517.8,543.8 L516.4,543.7 L515.1,543.2 L513.9,542.5 L512.9,541.6 L478.8,505.3 L477.9,504.1 L477.1,502.7 L476.5,501.0 L476.0,499.2 L475.7,497.3 L475.6,495.2 L475.7,493.1 L476.0,490.9 L476.5,488.7 L477.1,486.6 L477.9,484.5 L478.8,482.5 L479.9,480.7 L481.1,479.1 L482.4,477.6 L483.8,476.4 L485.2,475.4 L486.6,474.7 L488.1,474.3 L489.5,474.1 L490.8,474.2 L492.1,474.7 L493.3,475.4 L494.4,476.3Z" fill="none" stroke="#1f1f1f" stroke-width="1.9" stroke-linejoin="round" stroke-linecap="round" clip-path="url(#ec5)"/>
<path d="M429.0,424.4 L428.9,425.5 L428.6,426.7 L428.2,427.8 L427.7,428.8 L427.1,429.6 L426.3,430.3 L425.6,430.7 L424.8,430.9 L424.1,430.8 L423.5,430.5 L422.9,429.9 L422.5,429.1 L422.3,428.2 L422.2,427.1 L422.3,425.9 L422.5,424.8 L422.9,423.7 L423.5,422.7 L424.1,421.8 L424.8,421.2 L425.6,420.7 L426.3,420.5 L427.1,420.6 L427.7,421.0 L428.2,421.5 L428.6,422.3 L428.9,423.3Z" fill="#fff" stroke="#1f1f1f" stroke-width="1.8" stroke-linejoin="round" stroke-linecap="round" />
<path d="M455.1,452.3 L455.1,453.4 L454.8,454.6 L454.4,455.7 L453.9,456.7 L453.2,457.5 L452.5,458.2 L451.7,458.6 L451.0,458.8 L450.3,458.7 L449.6,458.4 L449.1,457.8 L448.7,457.0 L448.4,456.1 L448.3,455.0 L448.4,453.8 L448.7,452.7 L449.1,451.6 L449.6,450.6 L450.3,449.7 L451.0,449.1 L451.7,448.6 L452.5,448.4 L453.2,448.5 L453.9,448.9 L454.4,449.4 L454.8,450.2 L455.1,451.2Z" fill="#fff" stroke="#1f1f1f" stroke-width="1.8" stroke-linejoin="round" stroke-linecap="round" />
<path d="M472.6,470.9 L472.5,472.0 L472.2,473.2 L471.8,474.3 L471.3,475.3 L470.7,476.1 L469.9,476.8 L469.2,477.2 L468.4,477.4 L467.7,477.3 L467.1,477.0 L466.5,476.4 L466.1,475.6 L465.9,474.7 L465.8,473.6 L465.9,472.4 L466.1,471.3 L466.5,470.2 L467.1,469.2 L467.7,468.3 L468.4,467.7 L469.2,467.2 L469.9,467.0 L470.7,467.1 L471.3,467.5 L471.8,468.0 L472.2,468.8 L472.5,469.8Z" fill="#fff" stroke="#1f1f1f" stroke-width="1.8" stroke-linejoin="round" stroke-linecap="round" />
<path d="M485.7,484.8 L485.6,485.9 L485.3,487.1 L484.9,488.2 L484.4,489.2 L483.7,490.1 L483.0,490.7 L482.3,491.2 L481.5,491.3 L480.8,491.2 L480.1,490.9 L479.6,490.3 L479.2,489.6 L478.9,488.6 L478.9,487.5 L478.9,486.4 L479.2,485.2 L479.6,484.1 L480.1,483.1 L480.8,482.3 L481.5,481.6 L482.3,481.2 L483.0,481.0 L483.7,481.1 L484.4,481.4 L484.9,482.0 L485.3,482.8 L485.6,483.7Z" fill="#fff" stroke="#1f1f1f" stroke-width="1.8" stroke-linejoin="round" stroke-linecap="round" />
<path d="M445.2,440.2 L445.5,440.5 L445.7,440.9 L445.9,441.4 L446.1,441.9 L446.1,442.5 L446.2,443.1 L446.1,443.7 L446.1,444.3 L445.9,444.9 L445.7,445.5 L445.5,446.1 L445.2,446.7 L444.9,447.2 L444.6,447.7 L444.2,448.1 L443.8,448.4 L443.4,448.7 L443.0,448.9 L442.6,449.0 L442.2,449.1 L441.8,449.0 L441.4,448.9 L441.1,448.7 L440.8,448.5 L431.2,438.2 L430.9,437.9 L430.7,437.5 L430.5,437.0 L430.4,436.5 L430.3,435.9 L430.3,435.3 L430.3,434.7 L430.4,434.1 L430.5,433.5 L430.7,432.9 L430.9,432.3 L431.2,431.7 L431.5,431.2 L431.9,430.7 L432.2,430.3 L432.6,430.0 L433.0,429.7 L433.4,429.5 L433.8,429.4 L434.2,429.3 L434.6,429.4 L435.0,429.5 L435.3,429.7 L435.6,429.9Z" fill="#fff" stroke="#1f1f1f" stroke-width="2.1" stroke-linejoin="round" stroke-linecap="round" />
<path d="M444.1,441.3 L444.3,441.5 L444.4,441.7 L444.5,442.0 L444.6,442.3 L444.6,442.7 L444.7,443.0 L444.6,443.4 L444.6,443.8 L444.5,444.2 L444.4,444.5 L444.3,444.9 L444.1,445.2 L443.9,445.6 L443.7,445.8 L443.5,446.1 L443.2,446.3 L443.0,446.5 L442.7,446.6 L442.5,446.7 L442.3,446.7 L442.0,446.7 L441.8,446.6 L441.6,446.5 L441.4,446.3 L433.5,437.9 L433.4,437.7 L433.2,437.5 L433.1,437.2 L433.0,436.9 L433.0,436.5 L433.0,436.2 L433.0,435.8 L433.0,435.4 L433.1,435.0 L433.2,434.7 L433.4,434.3 L433.5,434.0 L433.7,433.7 L433.9,433.4 L434.2,433.1 L434.4,432.9 L434.6,432.7 L434.9,432.6 L435.1,432.5 L435.4,432.5 L435.6,432.5 L435.9,432.6 L436.1,432.7 L436.3,432.9Z" fill="none" stroke="#1f1f1f" stroke-width="1.3" stroke-linejoin="round" stroke-linecap="round" />
<path d="M464.7,461.3 L465.0,461.7 L465.2,462.0 L465.4,462.5 L465.5,463.0 L465.6,463.5 L465.6,464.1 L465.6,464.6 L465.5,465.2 L465.4,465.8 L465.2,466.4 L465.0,466.9 L464.7,467.5 L464.4,468.0 L464.1,468.4 L463.8,468.8 L463.4,469.1 L463.0,469.4 L462.6,469.6 L462.3,469.7 L461.9,469.7 L461.5,469.7 L461.2,469.6 L460.8,469.4 L460.5,469.2 L456.2,464.5 L455.9,464.2 L455.7,463.8 L455.5,463.4 L455.4,462.9 L455.3,462.3 L455.3,461.8 L455.3,461.2 L455.4,460.6 L455.5,460.0 L455.7,459.4 L455.9,458.9 L456.2,458.4 L456.5,457.9 L456.8,457.4 L457.1,457.0 L457.5,456.7 L457.9,456.4 L458.3,456.2 L458.7,456.1 L459.0,456.1 L459.4,456.1 L459.8,456.2 L460.1,456.4 L460.4,456.7Z" fill="#fff" stroke="#1f1f1f" stroke-width="2.1" stroke-linejoin="round" stroke-linecap="round" />
<path d="M463.6,462.4 L463.8,462.6 L463.9,462.8 L464.0,463.1 L464.1,463.4 L464.1,463.7 L464.1,464.0 L464.1,464.4 L464.1,464.7 L464.0,465.0 L463.9,465.4 L463.8,465.7 L463.6,466.0 L463.4,466.3 L463.2,466.6 L463.0,466.8 L462.8,467.0 L462.6,467.2 L462.4,467.3 L462.1,467.3 L461.9,467.4 L461.7,467.3 L461.5,467.3 L461.3,467.2 L461.1,467.0 L458.5,464.2 L458.4,464.0 L458.2,463.8 L458.1,463.5 L458.1,463.3 L458.0,462.9 L458.0,462.6 L458.0,462.3 L458.1,461.9 L458.1,461.6 L458.2,461.2 L458.4,460.9 L458.5,460.6 L458.7,460.3 L458.9,460.1 L459.1,459.8 L459.3,459.6 L459.5,459.5 L459.8,459.4 L460.0,459.3 L460.2,459.3 L460.4,459.3 L460.6,459.4 L460.8,459.5 L461.0,459.6Z" fill="none" stroke="#1f1f1f" stroke-width="1.3" stroke-linejoin="round" stroke-linecap="round" />
<clipPath id="ic6"><path d="M520.6,513.0 L521.2,513.7 L521.7,514.6 L522.1,515.6 L522.4,516.8 L522.6,518.0 L522.6,519.2 L522.6,520.6 L522.4,521.9 L522.1,523.3 L521.7,524.6 L521.2,525.9 L520.6,527.1 L520.0,528.2 L519.2,529.2 L518.4,530.1 L517.6,530.9 L516.7,531.5 L515.8,531.9 L514.9,532.2 L514.1,532.3 L513.2,532.2 L512.4,532.0 L511.7,531.5 L511.0,530.9 L488.3,506.8 L487.8,506.0 L487.3,505.1 L486.9,504.1 L486.6,503.0 L486.4,501.8 L486.4,500.5 L486.4,499.2 L486.6,497.8 L486.9,496.5 L487.3,495.2 L487.8,493.9 L488.3,492.7 L489.0,491.5 L489.8,490.5 L490.6,489.6 L491.4,488.9 L492.3,488.3 L493.2,487.8 L494.0,487.5 L494.9,487.4 L495.8,487.5 L496.6,487.8 L497.3,488.2 L498.0,488.8Z"/></clipPath>
<path d="M518.6,512.4 L519.2,513.1 L519.7,514.0 L520.1,515.0 L520.4,516.2 L520.6,517.4 L520.6,518.6 L520.6,520.0 L520.4,521.3 L520.1,522.7 L519.7,524.0 L519.2,525.3 L518.6,526.5 L518.0,527.6 L517.2,528.6 L516.4,529.5 L515.6,530.3 L514.7,530.9 L513.8,531.3 L512.9,531.6 L512.1,531.7 L511.2,531.6 L510.4,531.4 L509.7,530.9 L509.0,530.3 L486.3,506.2 L485.8,505.4 L485.3,504.5 L484.9,503.5 L484.6,502.4 L484.4,501.2 L484.4,499.9 L484.4,498.6 L484.6,497.2 L484.9,495.9 L485.3,494.6 L485.8,493.3 L486.3,492.1 L487.0,490.9 L487.8,489.9 L488.6,489.0 L489.4,488.3 L490.3,487.7 L491.2,487.2 L492.0,486.9 L492.9,486.8 L493.8,486.9 L494.6,487.2 L495.3,487.6 L496.0,488.2Z" fill="none" stroke="#1f1f1f" stroke-width="4.2" stroke-linejoin="round" stroke-linecap="round" clip-path="url(#ic6)"/>
<path d="M520.6,513.0 L521.2,513.7 L521.7,514.6 L522.1,515.6 L522.4,516.8 L522.6,518.0 L522.6,519.2 L522.6,520.6 L522.4,521.9 L522.1,523.3 L521.7,524.6 L521.2,525.9 L520.6,527.1 L520.0,528.2 L519.2,529.2 L518.4,530.1 L517.6,530.9 L516.7,531.5 L515.8,531.9 L514.9,532.2 L514.1,532.3 L513.2,532.2 L512.4,532.0 L511.7,531.5 L511.0,530.9 L488.3,506.8 L487.8,506.0 L487.3,505.1 L486.9,504.1 L486.6,503.0 L486.4,501.8 L486.4,500.5 L486.4,499.2 L486.6,497.8 L486.9,496.5 L487.3,495.2 L487.8,493.9 L488.3,492.7 L489.0,491.5 L489.8,490.5 L490.6,489.6 L491.4,488.9 L492.3,488.3 L493.2,487.8 L494.0,487.5 L494.9,487.4 L495.8,487.5 L496.6,487.8 L497.3,488.2 L498.0,488.8Z" fill="none" stroke="#1f1f1f" stroke-width="1.3" stroke-linejoin="round" stroke-linecap="round" />
<path d="M517.4,515.2 L517.8,515.6 L518.1,516.1 L518.3,516.8 L518.5,517.4 L518.6,518.2 L518.6,518.9 L518.6,519.7 L518.5,520.5 L518.3,521.4 L518.1,522.2 L517.8,522.9 L517.4,523.7 L517.0,524.3 L516.6,525.0 L516.1,525.5 L515.6,526.0 L515.1,526.3 L514.5,526.6 L514.0,526.7 L513.5,526.8 L513.0,526.8 L512.5,526.6 L512.0,526.3 L511.6,526.0 L490.7,503.7 L490.3,503.2 L490.0,502.7 L489.8,502.1 L489.6,501.4 L489.5,500.7 L489.5,499.9 L489.5,499.1 L489.6,498.3 L489.8,497.5 L490.0,496.7 L490.3,495.9 L490.7,495.2 L491.1,494.5 L491.5,493.9 L492.0,493.3 L492.5,492.9 L493.1,492.5 L493.6,492.2 L494.1,492.1 L494.7,492.0 L495.2,492.1 L495.6,492.2 L496.1,492.5 L496.5,492.8Z" fill="none" stroke="#1f1f1f" stroke-width="1.3" stroke-linejoin="round" stroke-linecap="round" />
<path d="M517.5,518.1 L517.4,519.4 L517.1,520.7 L516.7,522.0 L516.0,523.1 L515.3,524.0 L514.5,524.8 L513.7,525.3 L512.8,525.5 L512.0,525.4 L511.3,525.0 L510.7,524.4 L510.2,523.5 L509.9,522.4 L509.8,521.2 L509.9,519.9 L510.2,518.6 L510.7,517.3 L511.3,516.2 L512.0,515.2 L512.8,514.5 L513.7,514.0 L514.5,513.8 L515.3,513.9 L516.0,514.3 L516.7,514.9 L517.1,515.8 L517.4,516.9Z" fill="#fff" stroke="#1f1f1f" stroke-width="1.5" stroke-linejoin="round" stroke-linecap="round" />
<path d="M518.8,525.1 L521.1,524.2 L521.1,527.6 L518.8,528.5Z" fill="#444" stroke="#1f1f1f" stroke-width="1.2" stroke-linejoin="round" stroke-linecap="round" />
<line x1="505.0" y1="496.1" x2="495.3" y2="514.3" stroke="#1f1f1f" stroke-width="1.6" />
<line x1="500.2" y1="491.0" x2="490.5" y2="509.2" stroke="#1f1f1f" stroke-width="1.6" />
<path d="M404.9,941.8 L405.0,939.0 L405.4,936.1 L406.0,933.3 L406.8,930.5 L407.9,927.8 L409.1,925.2 L504.6,746.9 L506.0,744.5 L507.6,742.4 L509.3,740.5 L511.1,738.9 L512.9,737.6 L514.8,736.7 L516.6,736.1 L518.5,735.9 L520.3,736.1 L522.0,736.6 L528.3,738.7 L529.9,739.6 L531.2,740.8 L532.5,742.4 L533.5,744.2 L534.3,746.3 L534.9,748.7 L535.3,751.2 L535.4,753.8 L535.3,756.6 L534.9,759.4 L534.3,762.2 L533.5,765.0 L532.5,767.6 L531.2,770.1 L435.8,948.4 L434.4,950.8 L432.8,952.9 L431.2,954.7 L429.4,956.3 L427.6,957.6 L425.8,958.5 L423.9,959.0 L422.1,959.2 L420.4,959.1 L413.8,957.7 L412.1,957.2 L410.5,956.3 L409.1,955.0 L407.9,953.5 L406.8,951.6 L406.0,949.4 L405.4,947.1 L405.0,944.5Z" fill="#fff" stroke="#1f1f1f" stroke-width="2.0" stroke-linejoin="round" stroke-linecap="round" />
<clipPath id="ac7"><path d="M288.4,1210.1 L666.2,504.9 L489.9,410.4 L112.1,1115.6Z"/></clipPath>
<path d="M511.3,748.8 L512.7,746.5 L514.2,744.4 L515.8,742.5 L517.6,740.9 L519.4,739.7 L521.3,738.8 L523.1,738.2 L524.9,738.0 L526.7,738.2 L528.3,738.7 L529.9,739.6 L531.2,740.8 L532.5,742.4 L533.5,744.2 L534.3,746.3 L534.9,748.7 L535.3,751.2 L535.4,753.8 L535.3,756.6 L534.9,759.4 L534.3,762.2 L533.5,765.0 L532.5,767.6 L531.2,770.1 L435.8,948.4 L434.4,950.8 L432.8,952.9 L431.2,954.7 L429.4,956.3 L427.6,957.6 L425.8,958.5 L423.9,959.0 L422.1,959.2 L420.4,959.1 L418.7,958.5 L417.2,957.6 L415.8,956.4 L414.6,954.9 L413.5,953.0 L412.7,950.9 L412.1,948.6 L411.8,946.1 L411.6,943.4 L411.8,940.7 L412.1,937.9 L412.7,935.1 L413.5,932.3 L414.6,929.6 L415.8,927.1Z" fill="none" stroke="#1f1f1f" stroke-width="2.9" stroke-linejoin="round" stroke-linecap="round" clip-path="url(#ac7)"/>
<path d="M513.0,755.8 L513.9,754.2 L514.9,752.9 L516.0,751.6 L517.1,750.6 L518.3,749.8 L519.5,749.2 L520.7,748.8 L521.9,748.7 L523.0,748.8 L524.1,749.2 L525.1,749.7 L526.0,750.5 L526.8,751.6 L527.5,752.8 L528.1,754.1 L528.4,755.7 L528.7,757.3 L528.8,759.0 L528.7,760.8 L528.4,762.7 L528.1,764.5 L527.5,766.3 L526.8,768.1 L526.0,769.7 L432.7,943.9 L431.8,945.4 L430.8,946.8 L429.7,948.1 L428.6,949.1 L427.4,949.9 L426.2,950.5 L425.0,950.9 L423.8,951.0 L422.7,950.9 L421.6,950.5 L420.6,950.0 L419.7,949.1 L418.9,948.1 L418.2,946.9 L417.7,945.5 L417.3,944.0 L417.0,942.4 L417.0,940.6 L417.0,938.8 L417.3,937.0 L417.7,935.2 L418.2,933.4 L418.9,931.6 L419.7,930.0Z" fill="none" stroke="#1f1f1f" stroke-width="1.5" stroke-linejoin="round" stroke-linecap="round" />
<clipPath id="ec8"><path d="M542.2,822.7 L472.4,748.3 L531.7,637.6 L601.5,712.0Z"/></clipPath>
<path d="M512.4,750.0 L513.6,747.9 L515.0,746.1 L516.4,744.4 L518.0,743.0 L519.6,741.9 L521.3,741.1 L522.9,740.6 L524.5,740.4 L526.1,740.6 L527.5,741.0 L528.9,741.8 L530.1,742.9 L531.2,744.3 L532.1,745.9 L532.9,747.8 L533.4,749.9 L533.7,752.1 L533.8,754.5 L533.7,756.9 L533.4,759.4 L532.9,761.9 L532.1,764.3 L531.2,766.7 L530.1,769.0 L497.0,830.8 L495.8,832.9 L494.4,834.8 L492.9,836.4 L491.4,837.8 L489.8,839.0 L488.1,839.8 L486.5,840.3 L484.9,840.4 L483.3,840.3 L481.8,839.8 L480.5,839.0 L479.2,837.9 L478.2,836.6 L477.2,834.9 L476.5,833.0 L476.0,831.0 L475.7,828.7 L475.6,826.4 L475.7,823.9 L476.0,821.4 L476.5,819.0 L477.2,816.5 L478.2,814.1 L479.2,811.9Z" fill="none" stroke="#1f1f1f" stroke-width="1.0" stroke-linejoin="round" stroke-linecap="round" clip-path="url(#ec8)"/>
<path d="M513.5,751.2 L514.6,749.4 L515.8,747.7 L517.1,746.3 L518.4,745.1 L519.8,744.1 L521.3,743.4 L522.7,742.9 L524.1,742.8 L525.5,742.9 L526.7,743.3 L527.9,744.0 L529.0,745.0 L530.0,746.2 L530.8,747.6 L531.4,749.3 L531.9,751.1 L532.1,753.0 L532.2,755.1 L532.1,757.2 L531.9,759.4 L531.4,761.6 L530.8,763.7 L530.0,765.8 L529.0,767.8 L495.9,829.6 L494.8,831.5 L493.6,833.1 L492.3,834.6 L491.0,835.8 L489.6,836.8 L488.1,837.5 L486.7,837.9 L485.3,838.1 L483.9,837.9 L482.6,837.5 L481.4,836.8 L480.3,835.9 L479.4,834.7 L478.6,833.2 L478.0,831.6 L477.5,829.8 L477.2,827.8 L477.1,825.8 L477.2,823.6 L477.5,821.4 L478.0,819.3 L478.6,817.1 L479.4,815.0 L480.3,813.1Z" fill="none" stroke="#1f1f1f" stroke-width="1.9" stroke-linejoin="round" stroke-linecap="round" clip-path="url(#ec8)"/>
<path d="M429.3,936.3 L429.2,937.4 L428.9,938.6 L428.5,939.7 L428.0,940.7 L427.4,941.5 L426.6,942.2 L425.9,942.6 L425.1,942.8 L424.4,942.7 L423.8,942.4 L423.2,941.8 L422.8,941.0 L422.6,940.1 L422.5,939.0 L422.6,937.8 L422.8,936.7 L423.2,935.6 L423.8,934.6 L424.4,933.7 L425.1,933.1 L425.9,932.6 L426.6,932.4 L427.4,932.5 L428.0,932.9 L428.5,933.4 L428.9,934.2 L429.2,935.2Z" fill="#fff" stroke="#1f1f1f" stroke-width="1.8" stroke-linejoin="round" stroke-linecap="round" />
<path d="M455.4,887.4 L455.4,888.6 L455.1,889.7 L454.7,890.8 L454.2,891.8 L453.5,892.7 L452.8,893.3 L452.0,893.8 L451.3,893.9 L450.6,893.9 L449.9,893.5 L449.4,892.9 L449.0,892.2 L448.7,891.2 L448.6,890.1 L448.7,889.0 L449.0,887.8 L449.4,886.7 L449.9,885.7 L450.6,884.9 L451.3,884.2 L452.0,883.8 L452.8,883.6 L453.5,883.7 L454.2,884.0 L454.7,884.6 L455.1,885.4 L455.4,886.3Z" fill="#fff" stroke="#1f1f1f" stroke-width="1.8" stroke-linejoin="round" stroke-linecap="round" />
<path d="M472.9,854.9 L472.8,856.0 L472.5,857.2 L472.1,858.3 L471.6,859.3 L471.0,860.1 L470.2,860.8 L469.5,861.2 L468.7,861.4 L468.0,861.3 L467.4,861.0 L466.8,860.4 L466.4,859.6 L466.2,858.7 L466.1,857.6 L466.2,856.4 L466.4,855.3 L466.8,854.2 L467.4,853.2 L468.0,852.3 L468.7,851.7 L469.5,851.2 L470.2,851.0 L471.0,851.1 L471.6,851.5 L472.1,852.0 L472.5,852.8 L472.8,853.8Z" fill="#fff" stroke="#1f1f1f" stroke-width="1.8" stroke-linejoin="round" stroke-linecap="round" />
<path d="M486.0,830.4 L485.9,831.6 L485.6,832.7 L485.2,833.8 L484.7,834.8 L484.0,835.7 L483.3,836.4 L482.6,836.8 L481.8,837.0 L481.1,836.9 L480.4,836.5 L479.9,836.0 L479.5,835.2 L479.2,834.2 L479.2,833.2 L479.2,832.0 L479.5,830.9 L479.9,829.7 L480.4,828.7 L481.1,827.9 L481.8,827.2 L482.6,826.8 L483.3,826.6 L484.0,826.7 L484.7,827.0 L485.2,827.6 L485.6,828.4 L485.9,829.4Z" fill="#fff" stroke="#1f1f1f" stroke-width="1.8" stroke-linejoin="round" stroke-linecap="round" />
<path d="M441.1,902.7 L441.4,902.2 L441.7,901.7 L442.1,901.3 L442.5,900.9 L442.9,900.7 L443.3,900.5 L443.7,900.3 L444.1,900.3 L444.5,900.3 L444.9,900.4 L445.2,900.6 L445.5,900.9 L445.8,901.3 L446.0,901.7 L446.2,902.1 L446.4,902.6 L446.4,903.2 L446.5,903.8 L446.4,904.4 L446.4,905.0 L446.2,905.7 L446.0,906.3 L445.8,906.9 L445.5,907.4 L435.9,925.3 L435.6,925.9 L435.3,926.3 L434.9,926.7 L434.5,927.1 L434.1,927.4 L433.7,927.6 L433.3,927.7 L432.9,927.7 L432.5,927.7 L432.2,927.6 L431.8,927.4 L431.5,927.1 L431.2,926.8 L431.0,926.4 L430.8,925.9 L430.7,925.4 L430.6,924.8 L430.6,924.2 L430.6,923.6 L430.7,923.0 L430.8,922.4 L431.0,921.7 L431.2,921.2 L431.5,920.6Z" fill="#fff" stroke="#1f1f1f" stroke-width="2.1" stroke-linejoin="round" stroke-linecap="round" />
<path d="M441.7,905.6 L441.9,905.3 L442.1,905.0 L442.3,904.8 L442.6,904.6 L442.8,904.4 L443.0,904.3 L443.3,904.2 L443.5,904.2 L443.8,904.2 L444.0,904.3 L444.2,904.4 L444.4,904.6 L444.6,904.8 L444.7,905.0 L444.8,905.3 L444.9,905.6 L444.9,906.0 L445.0,906.3 L444.9,906.7 L444.9,907.1 L444.8,907.5 L444.7,907.8 L444.6,908.2 L444.4,908.5 L436.6,923.2 L436.4,923.5 L436.2,923.8 L435.9,924.0 L435.7,924.3 L435.4,924.4 L435.2,924.5 L434.9,924.6 L434.7,924.7 L434.5,924.6 L434.2,924.6 L434.0,924.4 L433.8,924.3 L433.7,924.1 L433.5,923.8 L433.4,923.5 L433.3,923.2 L433.3,922.9 L433.3,922.5 L433.3,922.1 L433.3,921.7 L433.4,921.4 L433.5,921.0 L433.7,920.6 L433.8,920.3Z" fill="none" stroke="#1f1f1f" stroke-width="1.3" stroke-linejoin="round" stroke-linecap="round" />
<path d="M460.8,866.2 L461.1,865.7 L461.5,865.3 L461.8,864.9 L462.2,864.5 L462.6,864.3 L462.9,864.1 L463.3,864.0 L463.7,863.9 L464.1,864.0 L464.4,864.1 L464.7,864.3 L465.0,864.5 L465.3,864.8 L465.5,865.2 L465.7,865.7 L465.8,866.2 L465.9,866.7 L465.9,867.2 L465.9,867.8 L465.8,868.4 L465.7,869.0 L465.5,869.6 L465.3,870.1 L465.0,870.7 L460.7,878.8 L460.4,879.3 L460.1,879.7 L459.7,880.1 L459.3,880.5 L459.0,880.7 L458.6,880.9 L458.2,881.0 L457.8,881.1 L457.4,881.0 L457.1,880.9 L456.8,880.7 L456.5,880.5 L456.2,880.2 L456.0,879.8 L455.8,879.3 L455.7,878.8 L455.6,878.3 L455.6,877.8 L455.6,877.2 L455.7,876.6 L455.8,876.0 L456.0,875.4 L456.2,874.9 L456.5,874.3Z" fill="#fff" stroke="#1f1f1f" stroke-width="2.1" stroke-linejoin="round" stroke-linecap="round" />
<path d="M461.4,869.1 L461.6,868.8 L461.8,868.6 L462.0,868.4 L462.2,868.2 L462.4,868.0 L462.7,867.9 L462.9,867.8 L463.1,867.8 L463.3,867.8 L463.5,867.9 L463.7,868.0 L463.9,868.2 L464.1,868.3 L464.2,868.6 L464.3,868.8 L464.4,869.1 L464.4,869.4 L464.4,869.8 L464.4,870.1 L464.4,870.4 L464.3,870.8 L464.2,871.1 L464.1,871.5 L463.9,871.8 L461.3,876.7 L461.1,876.9 L460.9,877.2 L460.7,877.4 L460.5,877.6 L460.3,877.8 L460.1,877.9 L459.8,878.0 L459.6,878.0 L459.4,878.0 L459.2,877.9 L459.0,877.8 L458.8,877.6 L458.7,877.4 L458.5,877.2 L458.4,877.0 L458.4,876.7 L458.3,876.4 L458.3,876.0 L458.3,875.7 L458.4,875.3 L458.4,875.0 L458.5,874.7 L458.7,874.3 L458.8,874.0Z" fill="none" stroke="#1f1f1f" stroke-width="1.3" stroke-linejoin="round" stroke-linecap="round" />
<clipPath id="ic9"><path d="M511.3,764.0 L512.0,762.9 L512.7,761.8 L513.5,760.9 L514.4,760.2 L515.2,759.6 L516.1,759.1 L517.0,758.9 L517.9,758.8 L518.7,758.9 L519.5,759.1 L520.3,759.5 L520.9,760.1 L521.5,760.9 L522.0,761.8 L522.4,762.8 L522.7,763.9 L522.9,765.1 L522.9,766.4 L522.9,767.7 L522.7,769.1 L522.4,770.4 L522.0,771.7 L521.5,773.0 L520.9,774.2 L498.3,816.6 L497.6,817.7 L496.9,818.7 L496.1,819.6 L495.2,820.4 L494.3,821.0 L493.5,821.4 L492.6,821.7 L491.7,821.8 L490.9,821.7 L490.1,821.4 L489.3,821.0 L488.6,820.4 L488.1,819.7 L487.6,818.8 L487.2,817.8 L486.9,816.7 L486.7,815.4 L486.7,814.2 L486.7,812.8 L486.9,811.5 L487.2,810.1 L487.6,808.8 L488.1,807.5 L488.6,806.3Z"/></clipPath>
<path d="M509.3,763.4 L510.0,762.3 L510.7,761.2 L511.5,760.3 L512.4,759.6 L513.2,759.0 L514.1,758.5 L515.0,758.3 L515.9,758.2 L516.7,758.3 L517.5,758.5 L518.3,758.9 L518.9,759.5 L519.5,760.3 L520.0,761.2 L520.4,762.2 L520.7,763.3 L520.9,764.5 L520.9,765.8 L520.9,767.1 L520.7,768.5 L520.4,769.8 L520.0,771.1 L519.5,772.4 L518.9,773.6 L496.3,816.0 L495.6,817.1 L494.9,818.1 L494.1,819.0 L493.2,819.8 L492.3,820.4 L491.5,820.8 L490.6,821.1 L489.7,821.2 L488.9,821.1 L488.1,820.8 L487.3,820.4 L486.6,819.8 L486.1,819.1 L485.6,818.2 L485.2,817.2 L484.9,816.1 L484.7,814.8 L484.7,813.6 L484.7,812.2 L484.9,810.9 L485.2,809.5 L485.6,808.2 L486.1,806.9 L486.6,805.7Z" fill="none" stroke="#1f1f1f" stroke-width="4.2" stroke-linejoin="round" stroke-linecap="round" clip-path="url(#ic9)"/>
<path d="M511.3,764.0 L512.0,762.9 L512.7,761.8 L513.5,760.9 L514.4,760.2 L515.2,759.6 L516.1,759.1 L517.0,758.9 L517.9,758.8 L518.7,758.9 L519.5,759.1 L520.3,759.5 L520.9,760.1 L521.5,760.9 L522.0,761.8 L522.4,762.8 L522.7,763.9 L522.9,765.1 L522.9,766.4 L522.9,767.7 L522.7,769.1 L522.4,770.4 L522.0,771.7 L521.5,773.0 L520.9,774.2 L498.3,816.6 L497.6,817.7 L496.9,818.7 L496.1,819.6 L495.2,820.4 L494.3,821.0 L493.5,821.4 L492.6,821.7 L491.7,821.8 L490.9,821.7 L490.1,821.4 L489.3,821.0 L488.6,820.4 L488.1,819.7 L487.6,818.8 L487.2,817.8 L486.9,816.7 L486.7,815.4 L486.7,814.2 L486.7,812.8 L486.9,811.5 L487.2,810.1 L487.6,808.8 L488.1,807.5 L488.6,806.3Z" fill="none" stroke="#1f1f1f" stroke-width="1.3" stroke-linejoin="round" stroke-linecap="round" />
<path d="M511.9,768.5 L512.3,767.8 L512.8,767.2 L513.3,766.6 L513.8,766.2 L514.3,765.8 L514.8,765.5 L515.4,765.4 L515.9,765.3 L516.4,765.4 L516.9,765.5 L517.3,765.8 L517.7,766.1 L518.1,766.6 L518.4,767.1 L518.6,767.7 L518.8,768.4 L518.9,769.1 L518.9,769.9 L518.9,770.7 L518.8,771.5 L518.6,772.3 L518.4,773.1 L518.1,773.9 L517.7,774.6 L496.8,813.7 L496.4,814.4 L495.9,815.0 L495.5,815.6 L495.0,816.0 L494.4,816.4 L493.9,816.6 L493.4,816.8 L492.8,816.9 L492.3,816.8 L491.8,816.7 L491.4,816.4 L491.0,816.0 L490.6,815.6 L490.3,815.1 L490.1,814.4 L489.9,813.8 L489.8,813.0 L489.8,812.3 L489.8,811.5 L489.9,810.7 L490.1,809.8 L490.3,809.0 L490.6,808.3 L491.0,807.5Z" fill="none" stroke="#1f1f1f" stroke-width="1.3" stroke-linejoin="round" stroke-linecap="round" />
<path d="M517.8,771.7 L517.7,772.9 L517.4,774.2 L517.0,775.5 L516.3,776.6 L515.6,777.6 L514.8,778.3 L514.0,778.8 L513.1,779.0 L512.3,778.9 L511.6,778.5 L511.0,777.9 L510.5,777.0 L510.2,775.9 L510.1,774.7 L510.2,773.4 L510.5,772.1 L511.0,770.9 L511.6,769.7 L512.3,768.8 L513.1,768.0 L514.0,767.6 L514.8,767.4 L515.6,767.5 L516.3,767.8 L517.0,768.5 L517.4,769.4 L517.7,770.4Z" fill="#fff" stroke="#1f1f1f" stroke-width="1.5" stroke-linejoin="round" stroke-linecap="round" />
<path d="M519.1,760.3 L521.4,759.3 L521.4,762.7 L519.1,763.6Z" fill="#444" stroke="#1f1f1f" stroke-width="1.2" stroke-linejoin="round" stroke-linecap="round" />
<line x1="505.3" y1="803.6" x2="495.6" y2="793.2" stroke="#1f1f1f" stroke-width="1.6" />
<line x1="500.5" y1="812.6" x2="490.8" y2="802.2" stroke="#1f1f1f" stroke-width="1.6" />
<path d="M660.0,698.4 L660.1,695.6 L660.5,692.7 L661.1,689.9 L661.9,687.1 L662.9,684.4 L664.2,681.8 L665.6,679.4 L667.2,677.2 L668.9,675.3 L670.6,673.7 L672.5,672.5 L674.4,671.5 L676.2,671.0 L678.1,670.8 L679.9,670.9 L681.5,671.5 L687.9,673.6 L689.4,674.5 L690.8,675.7 L787.1,778.4 L788.3,779.9 L789.3,781.8 L790.1,783.9 L790.7,786.2 L791.1,788.7 L791.2,791.4 L791.1,794.1 L790.7,796.9 L790.1,799.7 L789.3,802.5 L788.3,805.1 L787.1,807.7 L785.7,810.0 L784.2,812.1 L782.5,814.0 L780.8,815.6 L778.9,816.8 L777.1,817.7 L775.3,818.3 L773.4,818.5 L771.7,818.3 L765.1,817.0 L763.4,816.5 L761.9,815.5 L760.5,814.3 L664.2,711.6 L662.9,710.0 L661.9,708.2 L661.1,706.0 L660.5,703.6 L660.1,701.1Z" fill="#fff" stroke="#1f1f1f" stroke-width="2.0" stroke-linejoin="round" stroke-linecap="round" />
<clipPath id="ac10"><path d="M1003.0,1043.7 L455.8,460.2 L309.9,597.0 L857.1,1180.5Z"/></clipPath>
<path d="M670.8,713.0 L669.6,711.4 L668.6,709.6 L667.8,707.5 L667.2,705.2 L666.8,702.7 L666.7,700.0 L666.8,697.2 L667.2,694.4 L667.8,691.6 L668.6,688.9 L669.6,686.2 L670.8,683.7 L672.2,681.3 L673.8,679.2 L675.4,677.4 L677.2,675.8 L679.0,674.5 L680.8,673.6 L682.7,673.1 L684.5,672.9 L686.2,673.0 L687.9,673.6 L689.4,674.5 L690.8,675.7 L787.1,778.4 L788.3,779.9 L789.3,781.8 L790.2,783.9 L790.7,786.2 L791.1,788.7 L791.2,791.4 L791.1,794.1 L790.7,796.9 L790.2,799.7 L789.3,802.5 L788.3,805.1 L787.1,807.7 L785.7,810.0 L784.2,812.1 L782.5,814.0 L780.8,815.6 L778.9,816.8 L777.1,817.7 L775.3,818.3 L773.4,818.5 L771.7,818.3 L770.0,817.8 L768.5,816.9 L767.1,815.7Z" fill="none" stroke="#1f1f1f" stroke-width="2.4" stroke-linejoin="round" stroke-linecap="round" />
<path d="M671.7,712.2 L670.5,710.6 L669.5,708.8 L668.7,706.7 L668.1,704.3 L667.7,701.8 L667.6,699.2 L667.7,696.4 L668.1,693.6 L668.7,690.8 L669.5,688.1 L670.5,685.4 L671.7,682.9 L673.1,680.5 L674.6,678.4 L676.3,676.5 L678.1,675.0 L679.9,673.7 L681.7,672.8 L683.6,672.2 L685.4,672.0 L687.1,672.2 L688.8,672.8 L690.3,673.6 L691.7,674.9 L788.0,777.5 L789.2,779.1 L790.2,780.9 L791.0,783.0 L791.6,785.4 L792.0,787.9 L792.1,790.5 L792.0,793.3 L791.6,796.1 L791.0,798.9 L790.2,801.7 L789.2,804.3 L788.0,806.8 L786.6,809.2 L785.0,811.3 L783.4,813.2 L781.6,814.7 L779.8,816.0 L778.0,816.9 L776.1,817.5 L774.3,817.7 L772.6,817.5 L770.9,817.0 L769.4,816.1 L768.0,814.8Z" fill="none" stroke="#1f1f1f" stroke-width="4.3" stroke-linejoin="round" stroke-linecap="round" clip-path="url(#ac10)"/>
<path d="M676.0,708.4 L675.2,707.4 L674.6,706.2 L674.0,704.8 L673.6,703.3 L673.4,701.6 L673.3,699.9 L673.4,698.1 L673.6,696.3 L674.0,694.4 L674.6,692.6 L675.2,690.9 L676.0,689.2 L676.9,687.7 L678.0,686.3 L679.0,685.1 L680.2,684.1 L681.4,683.2 L682.6,682.6 L683.8,682.3 L685.0,682.2 L686.1,682.3 L687.2,682.6 L688.2,683.2 L689.1,684.0 L783.2,784.3 L784.0,785.4 L784.7,786.6 L785.2,787.9 L785.6,789.5 L785.8,791.1 L785.9,792.9 L785.8,794.7 L785.6,796.5 L785.2,798.3 L784.7,800.1 L784.0,801.9 L783.2,803.5 L782.3,805.1 L781.3,806.4 L780.2,807.7 L779.1,808.7 L777.9,809.5 L776.7,810.1 L775.5,810.5 L774.3,810.6 L773.1,810.5 L772.0,810.1 L771.0,809.6 L770.1,808.8Z" fill="none" stroke="#1f1f1f" stroke-width="1.5" stroke-linejoin="round" stroke-linecap="round" />
<clipPath id="ec11"><path d="M660.8,775.3 L730.5,645.0 L671.2,581.8 L601.5,712.0Z"/></clipPath>
<path d="M672.0,710.9 L670.9,709.5 L670.0,707.9 L669.2,706.0 L668.7,704.0 L668.4,701.7 L668.3,699.4 L668.4,696.9 L668.7,694.4 L669.2,691.9 L670.0,689.5 L670.9,687.1 L672.0,684.9 L673.2,682.8 L674.6,680.9 L676.0,679.3 L677.6,677.9 L679.2,676.7 L680.8,675.9 L682.5,675.4 L684.1,675.3 L685.6,675.4 L687.1,675.9 L688.5,676.7 L689.7,677.8 L723.7,714.0 L724.8,715.4 L725.7,717.1 L726.4,718.9 L727.0,721.0 L727.3,723.2 L727.4,725.6 L727.3,728.0 L727.0,730.5 L726.4,733.0 L725.7,735.5 L724.8,737.8 L723.7,740.1 L722.5,742.2 L721.1,744.1 L719.6,745.7 L718.1,747.1 L716.5,748.2 L714.8,749.0 L713.2,749.5 L711.6,749.7 L710.0,749.6 L708.6,749.1 L707.2,748.3 L706.0,747.2Z" fill="none" stroke="#1f1f1f" stroke-width="1.0" stroke-linejoin="round" stroke-linecap="round" clip-path="url(#ec11)"/>
<path d="M673.1,708.8 L672.1,707.6 L671.3,706.2 L670.7,704.6 L670.2,702.8 L669.9,700.8 L669.8,698.7 L669.9,696.6 L670.2,694.4 L670.7,692.2 L671.3,690.1 L672.1,688.0 L673.1,686.1 L674.1,684.2 L675.3,682.6 L676.6,681.1 L678.0,679.9 L679.4,678.9 L680.8,678.2 L682.3,677.8 L683.7,677.6 L685.0,677.8 L686.3,678.2 L687.5,678.9 L688.6,679.8 L722.6,716.1 L723.6,717.3 L724.4,718.7 L725.0,720.4 L725.5,722.2 L725.7,724.2 L725.8,726.2 L725.7,728.4 L725.5,730.5 L725.0,732.7 L724.4,734.9 L723.6,736.9 L722.6,738.9 L721.5,740.7 L720.3,742.4 L719.0,743.8 L717.7,745.0 L716.3,746.0 L714.8,746.7 L713.4,747.2 L712.0,747.3 L710.6,747.2 L709.3,746.8 L708.2,746.1 L707.1,745.1Z" fill="none" stroke="#1f1f1f" stroke-width="1.9" stroke-linejoin="round" stroke-linecap="round" clip-path="url(#ec11)"/>
<path d="M778.1,793.2 L778.0,794.3 L777.7,795.5 L777.3,796.6 L776.8,797.6 L776.2,798.4 L775.4,799.1 L774.7,799.5 L773.9,799.7 L773.2,799.6 L772.6,799.3 L772.0,798.7 L771.6,797.9 L771.4,797.0 L771.3,795.9 L771.4,794.7 L771.6,793.6 L772.0,792.5 L772.6,791.5 L773.2,790.6 L773.9,790.0 L774.7,789.5 L775.4,789.3 L776.2,789.4 L776.8,789.8 L777.3,790.3 L777.7,791.1 L778.0,792.1Z" fill="#fff" stroke="#1f1f1f" stroke-width="1.8" stroke-linejoin="round" stroke-linecap="round" />
<path d="M751.9,765.3 L751.8,766.4 L751.6,767.6 L751.2,768.7 L750.6,769.7 L750.0,770.5 L749.3,771.2 L748.5,771.6 L747.8,771.8 L747.0,771.7 L746.4,771.4 L745.9,770.8 L745.5,770.0 L745.2,769.1 L745.1,768.0 L745.2,766.8 L745.5,765.7 L745.9,764.6 L746.4,763.6 L747.0,762.7 L747.8,762.1 L748.5,761.6 L749.3,761.4 L750.0,761.5 L750.6,761.9 L751.2,762.4 L751.6,763.2 L751.8,764.2Z" fill="#fff" stroke="#1f1f1f" stroke-width="1.8" stroke-linejoin="round" stroke-linecap="round" />
<path d="M734.5,746.7 L734.4,747.8 L734.1,749.0 L733.7,750.1 L733.2,751.1 L732.6,751.9 L731.8,752.6 L731.1,753.0 L730.3,753.2 L729.6,753.1 L729.0,752.8 L728.4,752.2 L728.0,751.4 L727.8,750.5 L727.7,749.4 L727.8,748.2 L728.0,747.1 L728.4,746.0 L729.0,745.0 L729.6,744.1 L730.3,743.5 L731.1,743.0 L731.8,742.8 L732.6,742.9 L733.2,743.3 L733.7,743.8 L734.1,744.6 L734.4,745.6Z" fill="#fff" stroke="#1f1f1f" stroke-width="1.8" stroke-linejoin="round" stroke-linecap="round" />
<path d="M721.4,732.7 L721.3,733.8 L721.1,735.0 L720.7,736.1 L720.1,737.1 L719.5,738.0 L718.8,738.6 L718.0,739.1 L717.2,739.2 L716.5,739.1 L715.9,738.8 L715.3,738.2 L714.9,737.5 L714.7,736.5 L714.6,735.4 L714.7,734.3 L714.9,733.1 L715.3,732.0 L715.9,731.0 L716.5,730.2 L717.2,729.5 L718.0,729.1 L718.8,728.9 L719.5,729.0 L720.1,729.3 L720.7,729.9 L721.1,730.7 L721.3,731.6Z" fill="#fff" stroke="#1f1f1f" stroke-width="1.8" stroke-linejoin="round" stroke-linecap="round" />
<path d="M755.0,780.1 L754.7,779.7 L754.5,779.3 L754.3,778.8 L754.2,778.3 L754.1,777.8 L754.1,777.2 L754.1,776.6 L754.2,775.9 L754.3,775.3 L754.5,774.7 L754.7,774.1 L755.0,773.5 L755.3,773.0 L755.7,772.6 L756.0,772.1 L756.4,771.8 L756.8,771.5 L757.2,771.3 L757.6,771.2 L758.1,771.1 L758.4,771.2 L758.8,771.3 L759.1,771.5 L759.5,771.8 L769.1,782.0 L769.3,782.3 L769.5,782.8 L769.7,783.2 L769.9,783.7 L769.9,784.3 L770.0,784.9 L769.9,785.5 L769.9,786.1 L769.7,786.7 L769.5,787.4 L769.3,788.0 L769.1,788.5 L768.7,789.0 L768.4,789.5 L768.0,789.9 L767.6,790.3 L767.2,790.5 L766.8,790.7 L766.4,790.9 L766.0,790.9 L765.6,790.9 L765.3,790.8 L764.9,790.6 L764.6,790.3Z" fill="#fff" stroke="#1f1f1f" stroke-width="2.1" stroke-linejoin="round" stroke-linecap="round" />
<path d="M757.4,779.8 L757.2,779.6 L757.0,779.3 L756.9,779.0 L756.9,778.7 L756.8,778.4 L756.8,778.0 L756.8,777.6 L756.9,777.3 L756.9,776.9 L757.0,776.5 L757.2,776.1 L757.4,775.8 L757.5,775.5 L757.8,775.2 L758.0,774.9 L758.2,774.7 L758.5,774.6 L758.7,774.4 L759.0,774.4 L759.2,774.3 L759.4,774.4 L759.7,774.4 L759.9,774.5 L760.1,774.7 L767.9,783.1 L768.1,783.3 L768.2,783.5 L768.3,783.8 L768.4,784.1 L768.5,784.5 L768.5,784.8 L768.5,785.2 L768.4,785.6 L768.3,786.0 L768.2,786.4 L768.1,786.7 L767.9,787.1 L767.7,787.4 L767.5,787.7 L767.3,787.9 L767.1,788.1 L766.8,788.3 L766.6,788.4 L766.3,788.5 L766.1,788.5 L765.8,788.5 L765.6,788.4 L765.4,788.3 L765.2,788.1Z" fill="none" stroke="#1f1f1f" stroke-width="1.3" stroke-linejoin="round" stroke-linecap="round" />
<path d="M735.5,758.9 L735.3,758.6 L735.1,758.2 L734.9,757.8 L734.8,757.3 L734.7,756.7 L734.7,756.2 L734.7,755.6 L734.8,755.0 L734.9,754.4 L735.1,753.8 L735.3,753.3 L735.5,752.8 L735.8,752.3 L736.1,751.8 L736.5,751.4 L736.9,751.1 L737.2,750.8 L737.6,750.6 L738.0,750.5 L738.4,750.5 L738.8,750.5 L739.1,750.6 L739.4,750.8 L739.7,751.1 L744.1,755.7 L744.3,756.1 L744.5,756.4 L744.7,756.9 L744.8,757.4 L744.9,757.9 L744.9,758.5 L744.9,759.0 L744.8,759.6 L744.7,760.2 L744.5,760.8 L744.3,761.3 L744.1,761.9 L743.8,762.4 L743.5,762.8 L743.1,763.2 L742.7,763.5 L742.4,763.8 L742.0,764.0 L741.6,764.1 L741.2,764.1 L740.8,764.1 L740.5,764.0 L740.2,763.8 L739.9,763.6Z" fill="#fff" stroke="#1f1f1f" stroke-width="2.1" stroke-linejoin="round" stroke-linecap="round" />
<path d="M737.9,758.6 L737.7,758.4 L737.6,758.2 L737.5,757.9 L737.4,757.7 L737.4,757.3 L737.3,757.0 L737.4,756.7 L737.4,756.3 L737.5,756.0 L737.6,755.6 L737.7,755.3 L737.9,755.0 L738.0,754.7 L738.2,754.5 L738.4,754.2 L738.6,754.0 L738.9,753.9 L739.1,753.8 L739.3,753.7 L739.5,753.7 L739.8,753.7 L740.0,753.8 L740.2,753.9 L740.3,754.0 L742.9,756.8 L743.1,757.0 L743.2,757.2 L743.3,757.5 L743.4,757.8 L743.4,758.1 L743.5,758.4 L743.4,758.8 L743.4,759.1 L743.3,759.4 L743.2,759.8 L743.1,760.1 L742.9,760.4 L742.8,760.7 L742.6,761.0 L742.4,761.2 L742.2,761.4 L741.9,761.6 L741.7,761.7 L741.5,761.7 L741.3,761.8 L741.0,761.7 L740.8,761.7 L740.6,761.6 L740.5,761.4Z" fill="none" stroke="#1f1f1f" stroke-width="1.3" stroke-linejoin="round" stroke-linecap="round" />
<clipPath id="ic12"><path d="M679.6,707.2 L679.0,706.5 L678.5,705.6 L678.1,704.6 L677.9,703.5 L677.7,702.3 L677.6,701.0 L677.7,699.7 L677.9,698.3 L678.1,697.0 L678.5,695.6 L679.0,694.3 L679.6,693.1 L680.3,692.0 L681.0,691.0 L681.8,690.1 L682.7,689.3 L683.5,688.7 L684.4,688.3 L685.3,688.0 L686.2,687.9 L687.0,688.0 L687.8,688.3 L688.6,688.7 L689.2,689.3 L711.9,713.5 L712.5,714.2 L713.0,715.1 L713.4,716.1 L713.7,717.2 L713.8,718.4 L713.9,719.7 L713.8,721.0 L713.7,722.4 L713.4,723.7 L713.0,725.1 L712.5,726.4 L711.9,727.6 L711.2,728.7 L710.5,729.7 L709.7,730.6 L708.9,731.4 L708.0,732.0 L707.1,732.4 L706.2,732.7 L705.3,732.8 L704.5,732.7 L703.7,732.4 L703.0,732.0 L702.3,731.4Z"/></clipPath>
<path d="M677.6,706.6 L677.0,705.9 L676.5,705.0 L676.1,704.0 L675.9,702.9 L675.7,701.7 L675.6,700.4 L675.7,699.1 L675.9,697.7 L676.1,696.4 L676.5,695.0 L677.0,693.7 L677.6,692.5 L678.3,691.4 L679.0,690.4 L679.8,689.5 L680.7,688.7 L681.5,688.1 L682.4,687.7 L683.3,687.4 L684.2,687.3 L685.0,687.4 L685.8,687.7 L686.6,688.1 L687.2,688.7 L709.9,712.9 L710.5,713.6 L711.0,714.5 L711.4,715.5 L711.7,716.6 L711.8,717.8 L711.9,719.1 L711.8,720.4 L711.7,721.8 L711.4,723.1 L711.0,724.5 L710.5,725.8 L709.9,727.0 L709.2,728.1 L708.5,729.1 L707.7,730.0 L706.9,730.8 L706.0,731.4 L705.1,731.8 L704.2,732.1 L703.3,732.2 L702.5,732.1 L701.7,731.8 L701.0,731.4 L700.3,730.8Z" fill="none" stroke="#1f1f1f" stroke-width="4.2" stroke-linejoin="round" stroke-linecap="round" clip-path="url(#ic12)"/>
<path d="M679.6,707.2 L679.0,706.5 L678.5,705.6 L678.1,704.6 L677.9,703.5 L677.7,702.3 L677.6,701.0 L677.7,699.7 L677.9,698.3 L678.1,697.0 L678.5,695.6 L679.0,694.3 L679.6,693.1 L680.3,692.0 L681.0,691.0 L681.8,690.1 L682.7,689.3 L683.5,688.7 L684.4,688.3 L685.3,688.0 L686.2,687.9 L687.0,688.0 L687.8,688.3 L688.6,688.7 L689.2,689.3 L711.9,713.5 L712.5,714.2 L713.0,715.1 L713.4,716.1 L713.7,717.2 L713.8,718.4 L713.9,719.7 L713.8,721.0 L713.7,722.4 L713.4,723.7 L713.0,725.1 L712.5,726.4 L711.9,727.6 L711.2,728.7 L710.5,729.7 L709.7,730.6 L708.9,731.4 L708.0,732.0 L707.1,732.4 L706.2,732.7 L705.3,732.8 L704.5,732.7 L703.7,732.4 L703.0,732.0 L702.3,731.4Z" fill="none" stroke="#1f1f1f" stroke-width="1.3" stroke-linejoin="round" stroke-linecap="round" />
<path d="M682.8,705.1 L682.5,704.6 L682.2,704.1 L681.9,703.5 L681.8,702.8 L681.7,702.1 L681.6,701.3 L681.7,700.5 L681.8,699.7 L681.9,698.9 L682.2,698.1 L682.5,697.3 L682.8,696.6 L683.2,695.9 L683.7,695.3 L684.2,694.7 L684.7,694.3 L685.2,693.9 L685.7,693.6 L686.3,693.5 L686.8,693.4 L687.3,693.5 L687.8,693.6 L688.2,693.9 L688.6,694.2 L709.6,716.6 L709.9,717.0 L710.2,717.5 L710.4,718.2 L710.6,718.8 L710.7,719.6 L710.8,720.3 L710.7,721.1 L710.6,721.9 L710.4,722.8 L710.2,723.6 L709.9,724.3 L709.6,725.1 L709.2,725.7 L708.7,726.4 L708.2,726.9 L707.7,727.4 L707.2,727.7 L706.7,728.0 L706.1,728.1 L705.6,728.2 L705.1,728.2 L704.6,728.0 L704.2,727.7 L703.8,727.4Z" fill="none" stroke="#1f1f1f" stroke-width="1.3" stroke-linejoin="round" stroke-linecap="round" />
<path d="M690.4,699.0 L690.3,700.3 L690.1,701.6 L689.6,702.9 L689.0,704.0 L688.3,705.0 L687.5,705.7 L686.6,706.2 L685.8,706.4 L684.9,706.3 L684.2,705.9 L683.6,705.3 L683.2,704.4 L682.9,703.3 L682.8,702.1 L682.9,700.8 L683.2,699.5 L683.6,698.3 L684.2,697.1 L684.9,696.2 L685.8,695.4 L686.6,695.0 L687.5,694.8 L688.3,694.8 L689.0,695.2 L689.6,695.9 L690.1,696.8 L690.3,697.8Z" fill="#fff" stroke="#1f1f1f" stroke-width="1.5" stroke-linejoin="round" stroke-linecap="round" />
<path d="M679.2,692.7 L681.5,691.8 L681.5,695.1 L679.2,696.0Z" fill="#444" stroke="#1f1f1f" stroke-width="1.2" stroke-linejoin="round" stroke-linecap="round" />
<line x1="695.2" y1="724.1" x2="705.0" y2="705.9" stroke="#1f1f1f" stroke-width="1.6" />
<line x1="700.0" y1="729.2" x2="709.8" y2="711.0" stroke="#1f1f1f" stroke-width="1.6" />
<line x1="731.6" y1="365.6" x2="824.0" y2="330.2" stroke="#2e2e2e" stroke-width="1.5" />
<line x1="777.2" y1="283.2" x2="852.0" y2="254.8" stroke="#2e2e2e" stroke-width="1.5" />
<line x1="732.0" y1="749.0" x2="824.0" y2="710.2" stroke="#2e2e2e" stroke-width="1.5" />
<line x1="777.0" y1="795.5" x2="852.0" y2="763.0" stroke="#2e2e2e" stroke-width="1.5" />
<line x1="780.0" y1="815.0" x2="888.0" y2="771.6" stroke="#2e2e2e" stroke-width="1.5" />
<line x1="472.8" y1="854.0" x2="472.8" y2="947.0" stroke="#2e2e2e" stroke-width="1.5" />
<line x1="733.0" y1="749.0" x2="733.0" y2="846.5" stroke="#2e2e2e" stroke-width="1.5" />
<line x1="428.6" y1="939.0" x2="428.6" y2="995.5" stroke="#2e2e2e" stroke-width="1.5" />
<line x1="778.5" y1="796.0" x2="778.5" y2="858.5" stroke="#2e2e2e" stroke-width="1.5" />
<path d="M455.0,153.4 L457.7,153.7 L460.4,154.1 L462.9,154.5 L465.4,155.0 L467.9,155.6 L470.2,156.2 L472.5,156.9 L474.7,157.6 L476.7,158.3 L478.7,159.1 L480.5,159.9 L482.3,160.8 L483.9,161.7 L485.3,162.7 L486.7,163.6 L487.9,164.6 L488.9,165.6 L489.9,166.7 L490.6,167.8 L491.2,168.8 L491.7,169.9 L492.0,171.0 L492.2,172.1 L492.2,173.2 L492.0,174.3 L491.7,175.4 L491.3,176.5 L490.7,177.6 L489.9,178.6 L489.0,179.7 L488.0,180.7 L486.8,181.7 L485.4,182.7 L484.0,183.6 L482.4,184.5 L480.7,185.4 L478.8,186.2 L476.9,187.0 L474.8,187.8 L472.6,188.5 L470.4,189.1 L468.0,189.8 L465.6,190.3 L463.1,190.8 L460.5,191.3 L457.9,191.7 L455.2,192.0 L452.5,192.3 L449.7,192.5 L447.0,192.7 L444.2,192.8 L441.3,192.8 L438.5,192.8 L435.7,192.7 L432.9,192.6 L430.2,192.4 L427.4,192.1 L424.7,191.8 L422.1,191.4 L419.5,191.0 L417.0,190.5 L414.5,189.9 L412.1,189.3 L409.9,188.7 L407.7,188.0 L405.6,187.3 L403.6,186.5 L401.7,185.7 L399.9,184.8 L398.3,183.9 L396.8,183.0 L395.4,182.0 L394.2,181.0 L393.1,180.0 L392.2,179.0 L391.4,177.9 L390.7,176.8 L390.2,175.8 L389.8,174.7 L389.6,173.6 L389.6,172.5 L389.7,171.4 L390.0,170.3 L390.4,169.2 L391.0,168.1 L391.7,167.0 L392.6,166.0 L393.6,164.9 L394.7,163.9 L396.0,163.0" fill="none" stroke="#262626" stroke-width="1.8" stroke-linejoin="round" stroke-linecap="round" />
<path d="M443.0,153.0 L456.7,151.7 L456.2,156.9Z" fill="#222" stroke="#222" stroke-width="0.4"/>
<path d="M407.8,158.2 L397.1,166.8 L394.6,162.2Z" fill="#222" stroke="#222" stroke-width="0.4"/>
<path d="M662.8,150.6 C657,159 655.3,169 657,179.5 C659,190 668,198 679,200.3 C683,201.2 687,201.5 692,201.3" fill="none" stroke="#262626" stroke-width="1.8" stroke-linejoin="round" stroke-linecap="round" />
<path d="M673.2,142.0 L664.6,152.8 L661.3,148.8Z" fill="#222" stroke="#222" stroke-width="0.4"/>
<path d="M704.6,198.2 L692.0,203.6 L690.9,198.5Z" fill="#222" stroke="#222" stroke-width="0.4"/>
<text x="112" y="24" font-size="26" fill="#3a3a3a" textLength="244" lengthAdjust="spacingAndGlyphs">Dimensions (mm)</text>
<text x="372.8" y="27.6" font-size="20" text-anchor="middle" font-weight="normal" fill="#3a3a3a" transform="rotate(-23 372.8 27.6)" dy="0.36em" textLength="34" lengthAdjust="spacingAndGlyphs">105</text>
<text x="411.0" y="46.0" font-size="20" text-anchor="middle" font-weight="normal" fill="#3a3a3a" transform="rotate(-23 411.0 46.0)" dy="0.36em" textLength="24" lengthAdjust="spacingAndGlyphs">80</text>
<text x="654.0" y="26.0" font-size="20" text-anchor="middle" font-weight="normal" fill="#3a3a3a" transform="rotate(16.3 654.0 26.0)" dy="0.36em" textLength="34" lengthAdjust="spacingAndGlyphs">165</text>
<text x="612.0" y="47.0" font-size="20" text-anchor="middle" font-weight="normal" fill="#3a3a3a" transform="rotate(16.3 612.0 47.0)" dy="0.36em" textLength="24" lengthAdjust="spacingAndGlyphs">95</text>
<text x="598.0" y="789.0" font-size="20" text-anchor="middle" font-weight="normal" fill="#3a3a3a" transform="rotate(-21.5 598.0 789.0)" dy="0.36em" textLength="24" lengthAdjust="spacingAndGlyphs">75</text>
<text x="594.0" y="823.0" font-size="20" text-anchor="middle" font-weight="normal" fill="#3a3a3a" transform="rotate(-21.5 594.0 823.0)" dy="0.36em" textLength="35" lengthAdjust="spacingAndGlyphs">100</text>
<text x="593.0" y="853.0" font-size="20" text-anchor="middle" font-weight="normal" fill="#3a3a3a" transform="rotate(-21.5 593.0 853.0)" dy="0.36em" textLength="37" lengthAdjust="spacingAndGlyphs">200</text>
<text x="601.0" y="880.0" font-size="20" text-anchor="middle" font-weight="normal" fill="#3a3a3a" transform="rotate(-21.5 601.0 880.0)" dy="0.36em" textLength="37" lengthAdjust="spacingAndGlyphs">300</text>
<text x="599.0" y="907.5" font-size="20" text-anchor="middle" font-weight="normal" fill="#3a3a3a" transform="rotate(-21.5 599.0 907.5)" dy="0.36em" textLength="37" lengthAdjust="spacingAndGlyphs">400</text>
<text x="723.0" y="554.0" font-size="20" text-anchor="middle" font-weight="normal" fill="#3a3a3a" transform="rotate(-90 723.0 554.0)" dy="0.36em" textLength="24" lengthAdjust="spacingAndGlyphs">75</text>
<text x="752.0" y="537.5" font-size="20" text-anchor="middle" font-weight="normal" fill="#3a3a3a" transform="rotate(-90 752.0 537.5)" dy="0.36em" textLength="35" lengthAdjust="spacingAndGlyphs">100</text>
<text x="779.0" y="522.5" font-size="20" text-anchor="middle" font-weight="normal" fill="#3a3a3a" transform="rotate(-90 779.0 522.5)" dy="0.36em" textLength="37" lengthAdjust="spacingAndGlyphs">200</text>
<text x="807.0" y="516.5" font-size="20" text-anchor="middle" font-weight="normal" fill="#3a3a3a" transform="rotate(-90 807.0 516.5)" dy="0.36em" textLength="37" lengthAdjust="spacingAndGlyphs">300</text>
<text x="836.0" y="510.5" font-size="20" text-anchor="middle" font-weight="normal" fill="#3a3a3a" transform="rotate(-90 836.0 510.5)" dy="0.36em" textLength="37" lengthAdjust="spacingAndGlyphs">400</text>
<text x="870.5" y="384.5" font-size="20" text-anchor="middle" font-weight="normal" fill="#3a3a3a" transform="rotate(-90 870.5 384.5)" dy="0.36em" textLength="92" lengthAdjust="spacingAndGlyphs">520~614</text>
<text x="441.2" y="174.6" font-size="21" text-anchor="middle" font-weight="normal" fill="#3a3a3a" transform="rotate(0 441.2 174.6)" dy="0.36em" textLength="51" lengthAdjust="spacingAndGlyphs">±45°</text>
<text x="719.0" y="170.7" font-size="21" text-anchor="middle" font-weight="normal" fill="#3a3a3a" transform="rotate(0 719.0 170.7)" dy="0.36em" textLength="75" lengthAdjust="spacingAndGlyphs">0°/−80°</text>
</svg>
</body></html>
